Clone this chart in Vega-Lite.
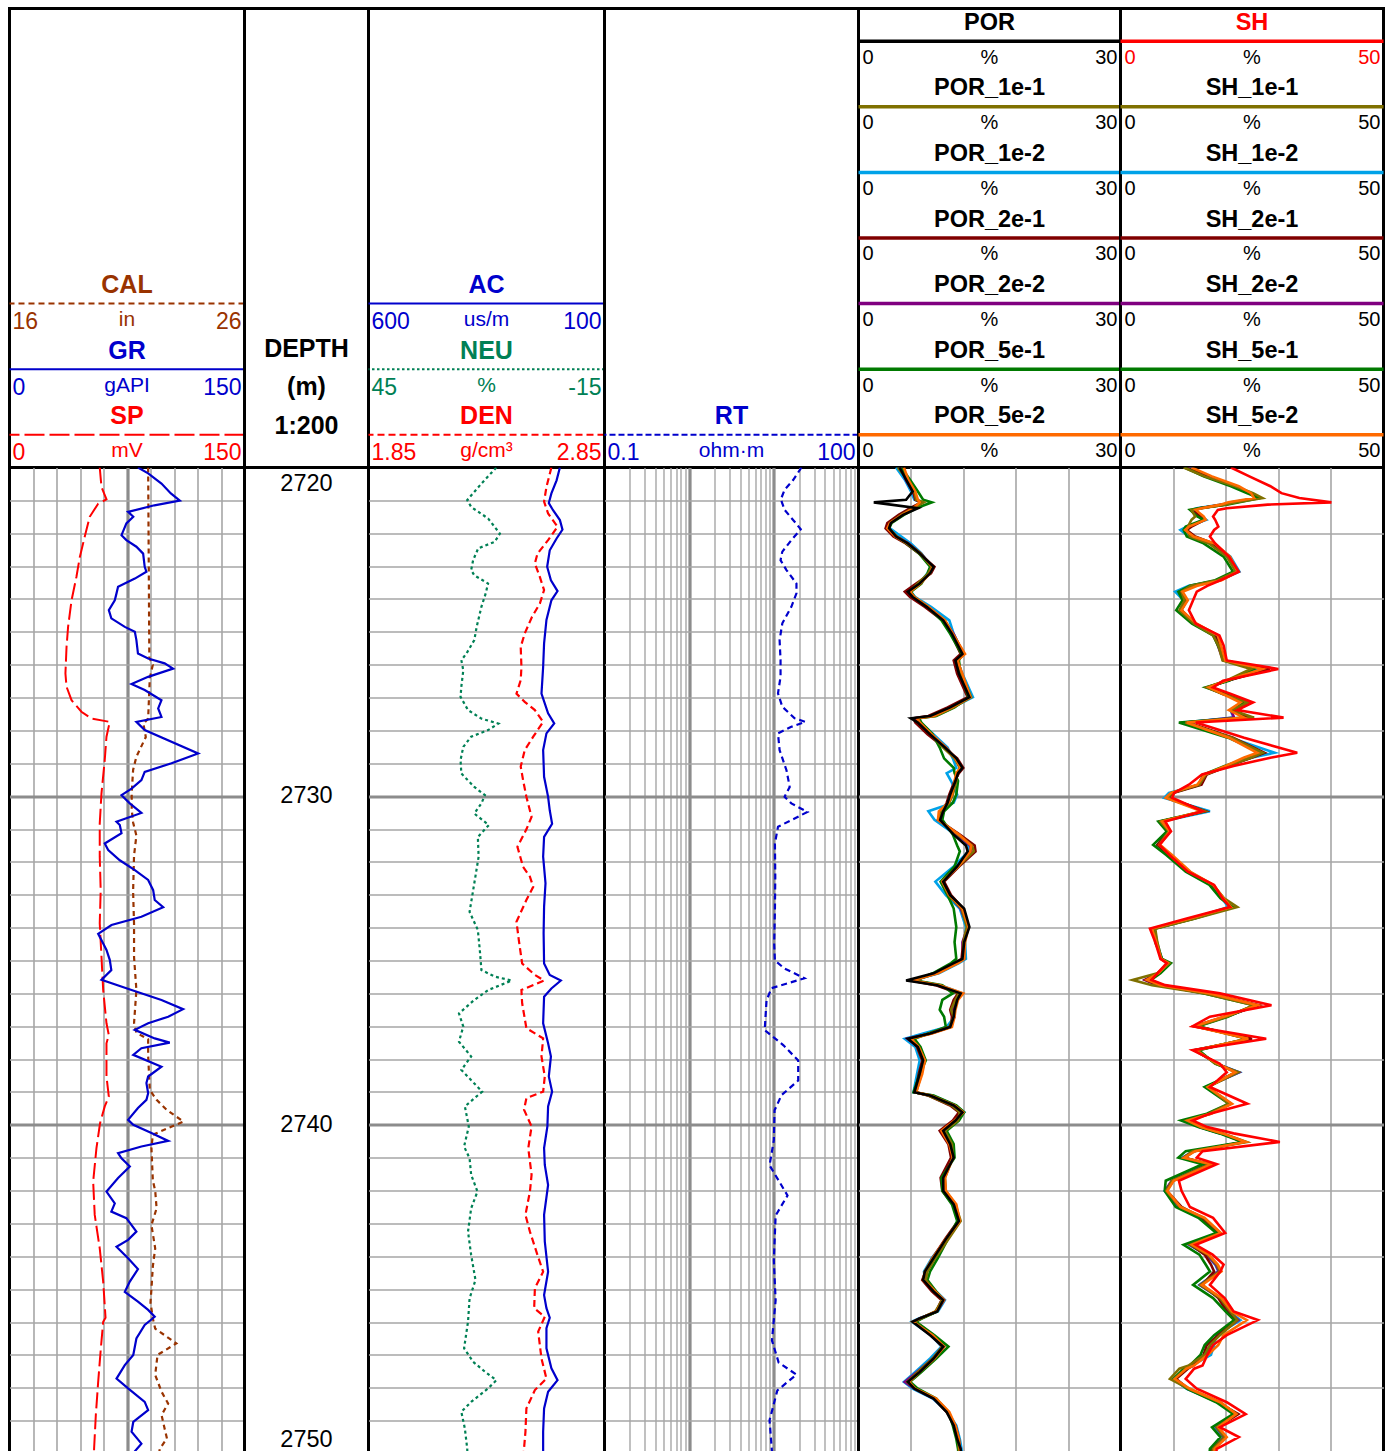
{
"$schema": "https://vega.github.io/schema/vega-lite/v6.json",
"background": "white",
"padding": {"left": 6.5, "top": 6.5, "right": 0, "bottom": 0},
"bounds": "flush",
"columns": 6,
"spacing": 0,
"config": {
 "view": {"stroke": "#000000", "strokeWidth": 3},
 "concat": {"spacing": 0},
 "axis": {"labels": false, "ticks": false, "domain": false, "title": null, "grid": true, "gridColor": "#a6a6a6", "gridWidth": 1.6, "minExtent": 0, "maxExtent": 0},
 "line": {"clip": true},
 "text": {"font": "Liberation Sans"}
},
"datasets": {
 "head": [
  {"track":"t1","row":9,"col":"center","kind":"title","text":"CAL","ink":"CAL"},
  {"track":"t1","row":10,"col":"left","kind":"value","text":"16","ink":"CAL"},
  {"track":"t1","row":10,"col":"center","kind":"unit","text":"in","ink":"CAL"},
  {"track":"t1","row":10,"col":"right","kind":"value","text":"26","ink":"CAL"},
  {"track":"t1","row":11,"col":"center","kind":"title","text":"GR","ink":"GR"},
  {"track":"t1","row":12,"col":"left","kind":"value","text":"0","ink":"GR"},
  {"track":"t1","row":12,"col":"center","kind":"unit","text":"gAPI","ink":"GR"},
  {"track":"t1","row":12,"col":"right","kind":"value","text":"150","ink":"GR"},
  {"track":"t1","row":13,"col":"center","kind":"title","text":"SP","ink":"SP"},
  {"track":"t1","row":14,"col":"left","kind":"value","text":"0","ink":"SP"},
  {"track":"t1","row":14,"col":"center","kind":"unit","text":"mV","ink":"SP"},
  {"track":"t1","row":14,"col":"right","kind":"value","text":"150","ink":"SP"},
  {"track":"t2","row":11,"col":"center","kind":"block","text":"DEPTH\n(m)\n1:200","ink":"none"},
  {"track":"t3","row":9,"col":"center","kind":"title","text":"AC","ink":"AC"},
  {"track":"t3","row":10,"col":"left","kind":"value","text":"600","ink":"AC"},
  {"track":"t3","row":10,"col":"center","kind":"unit","text":"us/m","ink":"AC"},
  {"track":"t3","row":10,"col":"right","kind":"value","text":"100","ink":"AC"},
  {"track":"t3","row":11,"col":"center","kind":"title","text":"NEU","ink":"NEU"},
  {"track":"t3","row":12,"col":"left","kind":"value","text":"45","ink":"NEU"},
  {"track":"t3","row":12,"col":"center","kind":"unit","text":"%","ink":"NEU"},
  {"track":"t3","row":12,"col":"right","kind":"value","text":"-15","ink":"NEU"},
  {"track":"t3","row":13,"col":"center","kind":"title","text":"DEN","ink":"DEN"},
  {"track":"t3","row":14,"col":"left","kind":"value","text":"1.85","ink":"DEN"},
  {"track":"t3","row":14,"col":"center","kind":"unit","text":"g/cm³","ink":"DEN"},
  {"track":"t3","row":14,"col":"right","kind":"value","text":"2.85","ink":"DEN"},
  {"track":"t4","row":13,"col":"center","kind":"title","text":"RT","ink":"RT"},
  {"track":"t4","row":14,"col":"left","kind":"value","text":"0.1","ink":"RT"},
  {"track":"t4","row":14,"col":"center","kind":"unit","text":"ohm·m","ink":"RT"},
  {"track":"t4","row":14,"col":"right","kind":"value","text":"100","ink":"RT"},
  {"track":"t5","row":1,"col":"center","kind":"title","text":"POR","ink":"POR"},
  {"track":"t5","row":2,"col":"left","kind":"value","text":"0","ink":"none"},
  {"track":"t5","row":2,"col":"center","kind":"unit","text":"%","ink":"none"},
  {"track":"t5","row":2,"col":"right","kind":"value","text":"30","ink":"none"},
  {"track":"t5","row":3,"col":"center","kind":"title","text":"POR_1e-1","ink":"none"},
  {"track":"t5","row":4,"col":"left","kind":"value","text":"0","ink":"none"},
  {"track":"t5","row":4,"col":"center","kind":"unit","text":"%","ink":"none"},
  {"track":"t5","row":4,"col":"right","kind":"value","text":"30","ink":"none"},
  {"track":"t5","row":5,"col":"center","kind":"title","text":"POR_1e-2","ink":"none"},
  {"track":"t5","row":6,"col":"left","kind":"value","text":"0","ink":"none"},
  {"track":"t5","row":6,"col":"center","kind":"unit","text":"%","ink":"none"},
  {"track":"t5","row":6,"col":"right","kind":"value","text":"30","ink":"none"},
  {"track":"t5","row":7,"col":"center","kind":"title","text":"POR_2e-1","ink":"none"},
  {"track":"t5","row":8,"col":"left","kind":"value","text":"0","ink":"none"},
  {"track":"t5","row":8,"col":"center","kind":"unit","text":"%","ink":"none"},
  {"track":"t5","row":8,"col":"right","kind":"value","text":"30","ink":"none"},
  {"track":"t5","row":9,"col":"center","kind":"title","text":"POR_2e-2","ink":"none"},
  {"track":"t5","row":10,"col":"left","kind":"value","text":"0","ink":"none"},
  {"track":"t5","row":10,"col":"center","kind":"unit","text":"%","ink":"none"},
  {"track":"t5","row":10,"col":"right","kind":"value","text":"30","ink":"none"},
  {"track":"t5","row":11,"col":"center","kind":"title","text":"POR_5e-1","ink":"none"},
  {"track":"t5","row":12,"col":"left","kind":"value","text":"0","ink":"none"},
  {"track":"t5","row":12,"col":"center","kind":"unit","text":"%","ink":"none"},
  {"track":"t5","row":12,"col":"right","kind":"value","text":"30","ink":"none"},
  {"track":"t5","row":13,"col":"center","kind":"title","text":"POR_5e-2","ink":"none"},
  {"track":"t5","row":14,"col":"left","kind":"value","text":"0","ink":"none"},
  {"track":"t5","row":14,"col":"center","kind":"unit","text":"%","ink":"none"},
  {"track":"t5","row":14,"col":"right","kind":"value","text":"30","ink":"none"},
  {"track":"t6","row":1,"col":"center","kind":"title","text":"SH","ink":"SH"},
  {"track":"t6","row":2,"col":"left","kind":"value","text":"0","ink":"SH"},
  {"track":"t6","row":2,"col":"center","kind":"unit","text":"%","ink":"none"},
  {"track":"t6","row":2,"col":"right","kind":"value","text":"50","ink":"SH"},
  {"track":"t6","row":3,"col":"center","kind":"title","text":"SH_1e-1","ink":"none"},
  {"track":"t6","row":4,"col":"left","kind":"value","text":"0","ink":"none"},
  {"track":"t6","row":4,"col":"center","kind":"unit","text":"%","ink":"none"},
  {"track":"t6","row":4,"col":"right","kind":"value","text":"50","ink":"none"},
  {"track":"t6","row":5,"col":"center","kind":"title","text":"SH_1e-2","ink":"none"},
  {"track":"t6","row":6,"col":"left","kind":"value","text":"0","ink":"none"},
  {"track":"t6","row":6,"col":"center","kind":"unit","text":"%","ink":"none"},
  {"track":"t6","row":6,"col":"right","kind":"value","text":"50","ink":"none"},
  {"track":"t6","row":7,"col":"center","kind":"title","text":"SH_2e-1","ink":"none"},
  {"track":"t6","row":8,"col":"left","kind":"value","text":"0","ink":"none"},
  {"track":"t6","row":8,"col":"center","kind":"unit","text":"%","ink":"none"},
  {"track":"t6","row":8,"col":"right","kind":"value","text":"50","ink":"none"},
  {"track":"t6","row":9,"col":"center","kind":"title","text":"SH_2e-2","ink":"none"},
  {"track":"t6","row":10,"col":"left","kind":"value","text":"0","ink":"none"},
  {"track":"t6","row":10,"col":"center","kind":"unit","text":"%","ink":"none"},
  {"track":"t6","row":10,"col":"right","kind":"value","text":"50","ink":"none"},
  {"track":"t6","row":11,"col":"center","kind":"title","text":"SH_5e-1","ink":"none"},
  {"track":"t6","row":12,"col":"left","kind":"value","text":"0","ink":"none"},
  {"track":"t6","row":12,"col":"center","kind":"unit","text":"%","ink":"none"},
  {"track":"t6","row":12,"col":"right","kind":"value","text":"50","ink":"none"},
  {"track":"t6","row":13,"col":"center","kind":"title","text":"SH_5e-2","ink":"none"},
  {"track":"t6","row":14,"col":"left","kind":"value","text":"0","ink":"none"},
  {"track":"t6","row":14,"col":"center","kind":"unit","text":"%","ink":"none"},
  {"track":"t6","row":14,"col":"right","kind":"value","text":"50","ink":"none"}
 ],
 "hrule": [
  {"track":"t1","row":9,"curve":"CAL"},{"track":"t1","row":11,"curve":"GR"},{"track":"t1","row":13,"curve":"SP"},
  {"track":"t3","row":9,"curve":"AC"},{"track":"t3","row":11,"curve":"NEU"},{"track":"t3","row":13,"curve":"DEN"},
  {"track":"t4","row":13,"curve":"RT"},
  {"track":"t5","row":1,"curve":"POR"},{"track":"t5","row":3,"curve":"1e-1"},{"track":"t5","row":5,"curve":"1e-2"},{"track":"t5","row":7,"curve":"2e-1"},{"track":"t5","row":9,"curve":"2e-2"},{"track":"t5","row":11,"curve":"5e-1"},{"track":"t5","row":13,"curve":"5e-2"},
  {"track":"t6","row":1,"curve":"SH"},{"track":"t6","row":3,"curve":"1e-1"},{"track":"t6","row":5,"curve":"1e-2"},{"track":"t6","row":7,"curve":"2e-1"},{"track":"t6","row":9,"curve":"2e-2"},{"track":"t6","row":11,"curve":"5e-1"},{"track":"t6","row":13,"curve":"5e-2"}
 ],
 "depthlab": [{"depth":2720},{"depth":2730},{"depth":2740},{"depth":2750}],
 "GR": [
  {"depth":2720,"value":82},{"depth":2720.18,"value":88.5},{"depth":2720.49,"value":97},{"depth":2720.79,"value":103},{"depth":2721.01,"value":108.7},{"depth":2721.15,"value":92.5},{"depth":2721.35,"value":75.7},{"depth":2721.5,"value":79},{"depth":2721.7,"value":74.6},{"depth":2722.06,"value":71.5},{"depth":2722.21,"value":74.6},{"depth":2722.41,"value":81},{"depth":2722.62,"value":85.3},{"depth":2723.02,"value":86.3},{"depth":2723.17,"value":87.4},{"depth":2723.38,"value":80},{"depth":2723.63,"value":69.3},{"depth":2723.83,"value":68.3},{"depth":2724.04,"value":67.2},{"depth":2724.34,"value":63.4},{"depth":2724.59,"value":65},{"depth":2724.85,"value":73.6},{"depth":2725.0,"value":80},{"depth":2725.25,"value":81},{"depth":2725.66,"value":82},{"depth":2725.81,"value":88.5},{"depth":2725.96,"value":99},{"depth":2726.12,"value":104.4},{"depth":2726.37,"value":88.5},{"depth":2726.59,"value":77.9},{"depth":2726.77,"value":86.3},{"depth":2727.08,"value":97},{"depth":2727.33,"value":94.9},{"depth":2727.59,"value":97},{"depth":2727.74,"value":81},{"depth":2727.99,"value":86.3},{"depth":2728.7,"value":120.4},{"depth":2729.0,"value":103.4},{"depth":2729.26,"value":86.3},{"depth":2729.51,"value":84.2},{"depth":2729.77,"value":77.9},{"depth":2729.97,"value":71.5},{"depth":2730.22,"value":76.8},{"depth":2730.51,"value":84.2},{"depth":2730.78,"value":68.3},{"depth":2730.88,"value":70.4},{"depth":2731.13,"value":71.5},{"depth":2731.44,"value":60.8},{"depth":2731.64,"value":63},{"depth":2731.95,"value":70.4},{"depth":2732.25,"value":80},{"depth":2732.55,"value":88.5},{"depth":2732.86,"value":91.7},{"depth":2733.16,"value":92.7},{"depth":2733.38,"value":98.1},{"depth":2733.67,"value":84.2},{"depth":2733.92,"value":65.1},{"depth":2734.19,"value":56.6},{"depth":2734.48,"value":59.8},{"depth":2734.68,"value":61.9},{"depth":2734.98,"value":64},{"depth":2735.29,"value":65},{"depth":2735.59,"value":58.7},{"depth":2735.9,"value":77.9},{"depth":2736.2,"value":97},{"depth":2736.48,"value":110.8},{"depth":2736.71,"value":101.3},{"depth":2736.91,"value":88.5},{"depth":2737.11,"value":80},{"depth":2737.37,"value":92.7},{"depth":2737.5,"value":102.3},{"depth":2737.67,"value":84.2},{"depth":2737.87,"value":79},{"depth":2738.23,"value":97},{"depth":2738.53,"value":88.5},{"depth":2738.73,"value":87.4},{"depth":2739.04,"value":88.5},{"depth":2739.24,"value":87.4},{"depth":2739.49,"value":82},{"depth":2739.85,"value":75.7},{"depth":2740.0,"value":79},{"depth":2740.25,"value":90.6},{"depth":2740.49,"value":101.3},{"depth":2740.66,"value":84.2},{"depth":2740.86,"value":69.3},{"depth":2741.02,"value":71.5},{"depth":2741.27,"value":76.8},{"depth":2741.62,"value":69.3},{"depth":2742.03,"value":61.9},{"depth":2742.39,"value":67.2},{"depth":2742.64,"value":65},{"depth":2742.84,"value":74.6},{"depth":2743.25,"value":81},{"depth":2743.5,"value":75.7},{"depth":2743.71,"value":68.3},{"depth":2744.06,"value":75.7},{"depth":2744.39,"value":82},{"depth":2744.77,"value":76.8},{"depth":2745.08,"value":73.6},{"depth":2745.38,"value":82},{"depth":2745.63,"value":88.5},{"depth":2745.84,"value":92.7},{"depth":2746.09,"value":86.3},{"depth":2746.5,"value":81},{"depth":2747.0,"value":79},{"depth":2747.31,"value":73.6},{"depth":2747.72,"value":68.3},{"depth":2748.02,"value":75.7},{"depth":2748.43,"value":86.3},{"depth":2748.68,"value":88.5},{"depth":2749.04,"value":79},{"depth":2749.34,"value":77.9},{"depth":2749.7,"value":84.2},{"depth":2749.93,"value":80},{"depth":2750.2,"value":78}
 ],
 "CAL": [
  {"depth":2720,"value":21.9},{"depth":2725.8,"value":21.95},{"depth":2726.0,"value":22.1},{"depth":2726.4,"value":21.97},{"depth":2727.64,"value":21.9},{"depth":2727.8,"value":21.7},{"depth":2728.2,"value":21.8},{"depth":2728.5,"value":21.6},{"depth":2728.8,"value":21.4},{"depth":2729.2,"value":21.26},{"depth":2729.9,"value":21.2},{"depth":2730.4,"value":21.2},{"depth":2730.8,"value":21.26},{"depth":2731.2,"value":21.4},{"depth":2731.8,"value":21.3},{"depth":2732.9,"value":21.26},{"depth":2733.9,"value":21.3},{"depth":2734.9,"value":21.3},{"depth":2735.9,"value":21.4},{"depth":2736.9,"value":21.3},{"depth":2737.2,"value":21.4},{"depth":2737.4,"value":21.9},{"depth":2737.9,"value":21.9},{"depth":2738.94,"value":21.97},{"depth":2739.24,"value":22.26},{"depth":2739.55,"value":22.7},{"depth":2739.9,"value":23.4},{"depth":2740.1,"value":22.75},{"depth":2740.3,"value":22.1},{"depth":2740.7,"value":22.04},{"depth":2741.7,"value":22.1},{"depth":2742.0,"value":22.2},{"depth":2742.54,"value":22.26},{"depth":2743.05,"value":22.04},{"depth":2743.76,"value":22.2},{"depth":2744.3,"value":22.1},{"depth":2745.0,"value":22.04},{"depth":2745.4,"value":22.0},{"depth":2745.89,"value":22.1},{"depth":2746.2,"value":22.2},{"depth":2746.4,"value":22.6},{"depth":2746.65,"value":23.1},{"depth":2747.0,"value":22.3},{"depth":2747.61,"value":22.2},{"depth":2748.12,"value":22.47},{"depth":2748.48,"value":22.75},{"depth":2748.83,"value":22.47},{"depth":2749.24,"value":22.6},{"depth":2749.54,"value":22.7},{"depth":2749.85,"value":22.4},{"depth":2750.2,"value":22.3}
 ],
 "SP": [
  {"depth":2720,"value":57.6},{"depth":2720.59,"value":58.7},{"depth":2720.97,"value":61.9},{"depth":2721.1,"value":56.6},{"depth":2721.5,"value":51.2},{"depth":2722.11,"value":48},{"depth":2722.72,"value":44.9},{"depth":2723.33,"value":42.7},{"depth":2724.04,"value":39.6},{"depth":2724.85,"value":37.4},{"depth":2725.46,"value":36.4},{"depth":2726.27,"value":35.7},{"depth":2726.67,"value":36.4},{"depth":2727.08,"value":39.6},{"depth":2727.43,"value":45.9},{"depth":2727.64,"value":52.3},{"depth":2727.74,"value":64},{"depth":2728.19,"value":61.9},{"depth":2728.9,"value":60.8},{"depth":2729.92,"value":58.7},{"depth":2730.83,"value":57.6},{"depth":2731.84,"value":57.6},{"depth":2732.86,"value":58.2},{"depth":2733.87,"value":57.6},{"depth":2734.88,"value":58.7},{"depth":2735.9,"value":59.8},{"depth":2736.91,"value":61.9},{"depth":2737.27,"value":63.4},{"depth":2737.52,"value":61.9},{"depth":2738.53,"value":61.9},{"depth":2739.14,"value":63.4},{"depth":2739.44,"value":60.8},{"depth":2739.95,"value":57.8},{"depth":2740.71,"value":55.5},{"depth":2741.73,"value":53.4},{"depth":2742.74,"value":54.4},{"depth":2743.76,"value":57.6},{"depth":2744.77,"value":59.8},{"depth":2745.87,"value":61.3},{"depth":2745.99,"value":59.8},{"depth":2746.8,"value":58.3},{"depth":2747.82,"value":56.6},{"depth":2748.83,"value":55.1},{"depth":2749.85,"value":54},{"depth":2750.2,"value":53.8}
 ],
 "AC": [
  {"depth":2720,"value":194.5},{"depth":2720.39,"value":201.5},{"depth":2720.79,"value":212.5},{"depth":2721.08,"value":218},{"depth":2721.3,"value":209},{"depth":2721.6,"value":194.5},{"depth":2721.89,"value":189},{"depth":2722.16,"value":201.5},{"depth":2722.52,"value":216},{"depth":2723.02,"value":221.5},{"depth":2723.43,"value":213.5},{"depth":2723.76,"value":199.5},{"depth":2724.04,"value":212.5},{"depth":2724.64,"value":223},{"depth":2725.35,"value":228},{"depth":2726.07,"value":230},{"depth":2726.88,"value":233.5},{"depth":2727.48,"value":219.5},{"depth":2727.79,"value":206.5},{"depth":2728.09,"value":223},{"depth":2728.6,"value":230},{"depth":2729.41,"value":228},{"depth":2730.02,"value":219.5},{"depth":2730.43,"value":216},{"depth":2730.84,"value":211},{"depth":2731.24,"value":228},{"depth":2731.84,"value":230},{"depth":2732.65,"value":225},{"depth":2733.36,"value":228},{"depth":2734.17,"value":229},{"depth":2735.09,"value":228},{"depth":2735.44,"value":216},{"depth":2735.61,"value":192.5},{"depth":2735.85,"value":212.5},{"depth":2736.1,"value":228},{"depth":2736.91,"value":230},{"depth":2737.52,"value":219.5},{"depth":2737.92,"value":213.5},{"depth":2738.53,"value":218},{"depth":2738.99,"value":211},{"depth":2739.44,"value":219.5},{"depth":2740.05,"value":221},{"depth":2740.71,"value":228},{"depth":2741.22,"value":226.5},{"depth":2741.83,"value":219.5},{"depth":2742.74,"value":228},{"depth":2743.55,"value":226.5},{"depth":2744.47,"value":219.5},{"depth":2745.18,"value":228},{"depth":2745.58,"value":223},{"depth":2745.87,"value":216},{"depth":2746.19,"value":223},{"depth":2746.8,"value":223},{"depth":2747.41,"value":212.5},{"depth":2747.77,"value":199.5},{"depth":2748.12,"value":219.5},{"depth":2748.63,"value":228},{"depth":2749.34,"value":230},{"depth":2749.85,"value":230},{"depth":2750.2,"value":230}
 ],
 "NEU": [
  {"depth":2720,"value":12.5},{"depth":2720.49,"value":16.3},{"depth":2720.99,"value":19.9},{"depth":2721.2,"value":18.9},{"depth":2721.55,"value":14.6},{"depth":2722.01,"value":11.6},{"depth":2722.26,"value":12.9},{"depth":2722.46,"value":17.1},{"depth":2722.82,"value":18.4},{"depth":2723.12,"value":18.9},{"depth":2723.28,"value":18.1},{"depth":2723.53,"value":14.6},{"depth":2723.83,"value":15.2},{"depth":2724.24,"value":16.3},{"depth":2724.85,"value":17.5},{"depth":2725.25,"value":18.1},{"depth":2725.66,"value":20.1},{"depth":2725.86,"value":21.4},{"depth":2726.17,"value":20.9},{"depth":2726.67,"value":21.4},{"depth":2726.98,"value":21.6},{"depth":2727.38,"value":19.7},{"depth":2727.64,"value":16.3},{"depth":2727.79,"value":12},{"depth":2727.99,"value":14.6},{"depth":2728.19,"value":18.9},{"depth":2728.5,"value":20.9},{"depth":2728.9,"value":21.6},{"depth":2729.31,"value":21.4},{"depth":2729.72,"value":18.1},{"depth":2729.97,"value":15.4},{"depth":2730.22,"value":16.3},{"depth":2730.53,"value":18.1},{"depth":2730.88,"value":14.4},{"depth":2731.24,"value":17.2},{"depth":2731.84,"value":17},{"depth":2732.65,"value":18.1},{"depth":2733.52,"value":19.3},{"depth":2734.07,"value":17.2},{"depth":2734.68,"value":16.7},{"depth":2735.29,"value":16.3},{"depth":2735.49,"value":12.9},{"depth":2735.61,"value":8.6},{"depth":2735.9,"value":14.6},{"depth":2736.2,"value":18.1},{"depth":2736.61,"value":22},{"depth":2737.01,"value":20.9},{"depth":2737.47,"value":22},{"depth":2737.92,"value":18.9},{"depth":2738.33,"value":21.4},{"depth":2738.99,"value":16.1},{"depth":2739.44,"value":20.5},{"depth":2740.05,"value":19.5},{"depth":2740.66,"value":20.7},{"depth":2741.02,"value":19.3},{"depth":2741.52,"value":18.9},{"depth":2742.03,"value":17.3},{"depth":2742.54,"value":18.9},{"depth":2743.25,"value":19.7},{"depth":2743.96,"value":18.9},{"depth":2744.72,"value":17.8},{"depth":2745.28,"value":19.3},{"depth":2745.99,"value":19.7},{"depth":2746.8,"value":20.7},{"depth":2747.21,"value":18.4},{"depth":2747.51,"value":15.4},{"depth":2747.77,"value":12.5},{"depth":2748.02,"value":14.6},{"depth":2748.43,"value":18.9},{"depth":2748.73,"value":21.4},{"depth":2749.24,"value":20.5},{"depth":2749.85,"value":19.9},{"depth":2750.2,"value":19.8}
 ],
 "DEN": [
  {"depth":2720,"value":2.625},{"depth":2720.59,"value":2.604},{"depth":2721.04,"value":2.594},{"depth":2721.4,"value":2.611},{"depth":2721.8,"value":2.651},{"depth":2722.21,"value":2.611},{"depth":2722.62,"value":2.566},{"depth":2722.92,"value":2.555},{"depth":2723.33,"value":2.576},{"depth":2723.73,"value":2.594},{"depth":2724.14,"value":2.576},{"depth":2724.54,"value":2.543},{"depth":2725.05,"value":2.512},{"depth":2725.46,"value":2.495},{"depth":2726.07,"value":2.498},{"depth":2726.47,"value":2.495},{"depth":2726.88,"value":2.477},{"depth":2727.13,"value":2.512},{"depth":2727.38,"value":2.555},{"depth":2727.74,"value":2.59},{"depth":2728.19,"value":2.548},{"depth":2728.6,"value":2.512},{"depth":2729.1,"value":2.495},{"depth":2729.51,"value":2.505},{"depth":2730.02,"value":2.519},{"depth":2730.63,"value":2.541},{"depth":2731.01,"value":2.519},{"depth":2731.54,"value":2.481},{"depth":2732.15,"value":2.505},{"depth":2732.45,"value":2.534},{"depth":2732.76,"value":2.548},{"depth":2733.16,"value":2.519},{"depth":2733.82,"value":2.477},{"depth":2734.38,"value":2.487},{"depth":2735.09,"value":2.501},{"depth":2735.44,"value":2.555},{"depth":2735.61,"value":2.594},{"depth":2735.9,"value":2.498},{"depth":2736.3,"value":2.501},{"depth":2737.06,"value":2.519},{"depth":2737.37,"value":2.59},{"depth":2737.92,"value":2.583},{"depth":2738.53,"value":2.597},{"depth":2738.99,"value":2.59},{"depth":2739.19,"value":2.519},{"depth":2739.54,"value":2.509},{"depth":2740.05,"value":2.541},{"depth":2740.71,"value":2.527},{"depth":2741.52,"value":2.541},{"depth":2742.03,"value":2.534},{"depth":2742.74,"value":2.515},{"depth":2743.25,"value":2.534},{"depth":2743.96,"value":2.566},{"depth":2744.47,"value":2.59},{"depth":2744.97,"value":2.555},{"depth":2745.58,"value":2.552},{"depth":2745.84,"value":2.597},{"depth":2746.29,"value":2.569},{"depth":2747.11,"value":2.583},{"depth":2747.72,"value":2.604},{"depth":2748.07,"value":2.555},{"depth":2748.63,"value":2.519},{"depth":2749.34,"value":2.515},{"depth":2749.85,"value":2.509},{"depth":2750.2,"value":2.505}
 ],
 "RT": [
  {"depth":2720,"value":21.2},{"depth":2720.38,"value":16.9},{"depth":2720.68,"value":13.4},{"depth":2720.97,"value":12.1},{"depth":2721.29,"value":13.4},{"depth":2721.65,"value":17.6},{"depth":2721.88,"value":20.8},{"depth":2722.21,"value":16.1},{"depth":2722.56,"value":12.6},{"depth":2722.82,"value":12},{"depth":2723.12,"value":14.1},{"depth":2723.53,"value":18.5},{"depth":2723.83,"value":18.5},{"depth":2724.24,"value":16.1},{"depth":2724.74,"value":12.6},{"depth":2725.25,"value":11.7},{"depth":2725.86,"value":12},{"depth":2726.37,"value":12},{"depth":2726.87,"value":11.2},{"depth":2727.28,"value":12.6},{"depth":2727.63,"value":17.6},{"depth":2727.74,"value":23.6},{"depth":2727.89,"value":16.1},{"depth":2728.09,"value":11.2},{"depth":2728.6,"value":11.7},{"depth":2729.21,"value":14.1},{"depth":2729.72,"value":15.4},{"depth":2730.02,"value":13.4},{"depth":2730.22,"value":16.1},{"depth":2730.48,"value":24.9},{"depth":2730.68,"value":17.6},{"depth":2730.93,"value":11.2},{"depth":2731.44,"value":10.3},{"depth":2732.46,"value":10.4},{"depth":2733.47,"value":10.3},{"depth":2734.49,"value":10.1},{"depth":2735.0,"value":10.3},{"depth":2735.24,"value":13.3},{"depth":2735.54,"value":23},{"depth":2735.84,"value":9.4},{"depth":2736.21,"value":8.2},{"depth":2737.12,"value":7.8},{"depth":2737.58,"value":13},{"depth":2738.04,"value":19.4},{"depth":2738.65,"value":19.4},{"depth":2739.1,"value":12.3},{"depth":2739.56,"value":10.2},{"depth":2740.47,"value":10},{"depth":2741.23,"value":8.9},{"depth":2742.15,"value":14.5},{"depth":2742.76,"value":10.5},{"depth":2744.13,"value":10},{"depth":2745.34,"value":10.5},{"depth":2746.56,"value":9.5},{"depth":2747.23,"value":11.4},{"depth":2747.6,"value":18.5},{"depth":2748.08,"value":11},{"depth":2748.99,"value":8.9},{"depth":2749.93,"value":9.5},{"depth":2750.2,"value":9.6}
 ],
 "por": [
  {"depth":2720,"POR":4.7,"POR_1e-1":4.5,"POR_1e-2":4.3,"POR_2e-1":5.0,"POR_2e-2":4.8,"POR_5e-1":4.9,"POR_5e-2":5.2},
  {"depth":2720.37,"POR":5.45,"POR_1e-1":5.6,"POR_1e-2":5.3,"POR_2e-1":5.5,"POR_2e-2":5.4,"POR_5e-1":5.9,"POR_5e-2":5.7},
  {"depth":2720.73,"POR":6.2,"POR_1e-1":6.4,"POR_1e-2":6.0,"POR_2e-1":6.3,"POR_2e-2":6.2,"POR_5e-1":6.8,"POR_5e-2":6.5},
  {"depth":2720.98,"POR":5.45,"POR_1e-1":6.6,"POR_1e-2":6.4,"POR_2e-1":6.5,"POR_2e-2":6.6,"POR_5e-1":7.4,"POR_5e-2":6.8},
  {"depth":2721.06,"POR":1.75,"POR_1e-1":7.5,"POR_1e-2":7.2,"POR_2e-1":7.2,"POR_2e-2":7.3,"POR_5e-1":8.4,"POR_5e-2":7.0},
  {"depth":2721.24,"POR":6.8,"POR_1e-1":6.2,"POR_1e-2":6.0,"POR_2e-1":5.9,"POR_2e-2":6.1,"POR_5e-1":6.6,"POR_5e-2":6.3},
  {"depth":2721.44,"POR":5.1,"POR_1e-1":4.9,"POR_1e-2":4.8,"POR_2e-1":4.6,"POR_2e-2":4.9,"POR_5e-1":5.2,"POR_5e-2":5.0},
  {"depth":2721.69,"POR":3.7,"POR_1e-1":3.6,"POR_1e-2":3.5,"POR_2e-1":3.3,"POR_2e-2":3.6,"POR_5e-1":3.8,"POR_5e-2":3.6},
  {"depth":2721.85,"POR":3.5,"POR_1e-1":3.4,"POR_1e-2":3.6,"POR_2e-1":3.1,"POR_2e-2":3.4,"POR_5e-1":3.5,"POR_5e-2":3.3},
  {"depth":2722.1,"POR":4.3,"POR_1e-1":4.4,"POR_1e-2":4.9,"POR_2e-1":4.0,"POR_2e-2":4.4,"POR_5e-1":4.3,"POR_5e-2":4.2},
  {"depth":2722.31,"POR":5.65,"POR_1e-1":5.6,"POR_1e-2":6.0,"POR_2e-1":5.4,"POR_2e-2":5.7,"POR_5e-1":5.5,"POR_5e-2":5.6},
  {"depth":2722.61,"POR":7.0,"POR_1e-1":7.1,"POR_1e-2":7.2,"POR_2e-1":6.9,"POR_2e-2":7.1,"POR_5e-1":6.9,"POR_5e-2":7.0},
  {"depth":2723.02,"POR":8.6,"POR_1e-1":8.4,"POR_1e-2":8.3,"POR_2e-1":8.7,"POR_2e-2":8.5,"POR_5e-1":8.2,"POR_5e-2":8.5},
  {"depth":2723.22,"POR":8.2,"POR_1e-1":8.0,"POR_1e-2":7.9,"POR_2e-1":8.3,"POR_2e-2":8.1,"POR_5e-1":7.9,"POR_5e-2":8.2},
  {"depth":2723.53,"POR":7.0,"POR_1e-1":6.8,"POR_1e-2":6.9,"POR_2e-1":6.6,"POR_2e-2":6.9,"POR_5e-1":7.2,"POR_5e-2":7.1},
  {"depth":2723.78,"POR":5.65,"POR_1e-1":5.8,"POR_1e-2":6.0,"POR_2e-1":5.3,"POR_2e-2":5.6,"POR_5e-1":6.0,"POR_5e-2":5.9},
  {"depth":2723.94,"POR":6.2,"POR_1e-1":6.3,"POR_1e-2":6.5,"POR_2e-1":5.9,"POR_2e-2":6.2,"POR_5e-1":6.4,"POR_5e-2":6.4},
  {"depth":2724.24,"POR":7.8,"POR_1e-1":7.9,"POR_1e-2":8.3,"POR_2e-1":7.6,"POR_2e-2":7.8,"POR_5e-1":7.9,"POR_5e-2":8.0},
  {"depth":2724.65,"POR":9.7,"POR_1e-1":9.9,"POR_1e-2":10.4,"POR_2e-1":9.6,"POR_2e-2":9.8,"POR_5e-1":9.5,"POR_5e-2":9.9},
  {"depth":2725.06,"POR":10.7,"POR_1e-1":10.8,"POR_1e-2":10.9,"POR_2e-1":10.6,"POR_2e-2":10.9,"POR_5e-1":10.5,"POR_5e-2":10.8},
  {"depth":2725.67,"POR":11.9,"POR_1e-1":12.1,"POR_1e-2":12.0,"POR_2e-1":11.7,"POR_2e-2":12.0,"POR_5e-1":11.8,"POR_5e-2":12.2},
  {"depth":2725.87,"POR":11.1,"POR_1e-1":11.4,"POR_1e-2":11.3,"POR_2e-1":10.9,"POR_2e-2":11.2,"POR_5e-1":11.5,"POR_5e-2":11.3},
  {"depth":2726.28,"POR":11.5,"POR_1e-1":11.8,"POR_1e-2":11.9,"POR_2e-1":11.3,"POR_2e-2":11.6,"POR_5e-1":11.7,"POR_5e-2":11.9},
  {"depth":2726.99,"POR":12.7,"POR_1e-1":12.9,"POR_1e-2":13.1,"POR_2e-1":12.5,"POR_2e-2":12.8,"POR_5e-1":12.6,"POR_5e-2":12.8},
  {"depth":2727.3,"POR":10.5,"POR_1e-1":10.9,"POR_1e-2":10.8,"POR_2e-1":10.2,"POR_2e-2":10.6,"POR_5e-1":11.0,"POR_5e-2":10.7},
  {"depth":2727.56,"POR":8.2,"POR_1e-1":8.8,"POR_1e-2":8.5,"POR_2e-1":8.0,"POR_2e-2":8.4,"POR_5e-1":8.9,"POR_5e-2":8.6},
  {"depth":2727.63,"POR":6.0,"POR_1e-1":6.8,"POR_1e-2":6.6,"POR_2e-1":6.3,"POR_2e-2":6.5,"POR_5e-1":6.9,"POR_5e-2":6.7},
  {"depth":2727.76,"POR":6.8,"POR_1e-1":7.0,"POR_1e-2":7.1,"POR_2e-1":6.5,"POR_2e-2":6.9,"POR_5e-1":7.2,"POR_5e-2":7.0},
  {"depth":2728.12,"POR":8.2,"POR_1e-1":8.3,"POR_1e-2":8.6,"POR_2e-1":7.9,"POR_2e-2":8.2,"POR_5e-1":8.5,"POR_5e-2":8.4},
  {"depth":2728.52,"POR":9.9,"POR_1e-1":9.7,"POR_1e-2":10.2,"POR_2e-1":9.8,"POR_2e-2":10.0,"POR_5e-1":9.3,"POR_5e-2":10.0},
  {"depth":2728.85,"POR":11.2,"POR_1e-1":11.0,"POR_1e-2":10.8,"POR_2e-1":11.3,"POR_2e-2":11.1,"POR_5e-1":9.8,"POR_5e-2":11.1},
  {"depth":2729.14,"POR":11.9,"POR_1e-1":11.6,"POR_1e-2":11.2,"POR_2e-1":12.0,"POR_2e-2":11.8,"POR_5e-1":10.9,"POR_5e-2":11.7},
  {"depth":2729.3,"POR":11.4,"POR_1e-1":11.3,"POR_1e-2":10.1,"POR_2e-1":11.5,"POR_2e-2":11.4,"POR_5e-1":11.0,"POR_5e-2":11.2},
  {"depth":2729.54,"POR":11.1,"POR_1e-1":11.2,"POR_1e-2":10.6,"POR_2e-1":11.0,"POR_2e-2":11.1,"POR_5e-1":11.4,"POR_5e-2":11.0},
  {"depth":2729.95,"POR":10.5,"POR_1e-1":10.8,"POR_1e-2":11.3,"POR_2e-1":10.4,"POR_2e-2":10.6,"POR_5e-1":11.2,"POR_5e-2":10.7},
  {"depth":2730.2,"POR":10.2,"POR_1e-1":10.4,"POR_1e-2":10.9,"POR_2e-1":10.1,"POR_2e-2":10.3,"POR_5e-1":10.8,"POR_5e-2":10.3},
  {"depth":2730.46,"POR":9.7,"POR_1e-1":9.4,"POR_1e-2":8.0,"POR_2e-1":9.6,"POR_2e-2":9.5,"POR_5e-1":9.8,"POR_5e-2":9.2},
  {"depth":2730.72,"POR":9.35,"POR_1e-1":9.2,"POR_1e-2":8.7,"POR_2e-1":9.1,"POR_2e-2":9.2,"POR_5e-1":9.6,"POR_5e-2":9.1},
  {"depth":2731.17,"POR":10.9,"POR_1e-1":11.4,"POR_1e-2":11.1,"POR_2e-1":11.6,"POR_2e-2":11.3,"POR_5e-1":10.8,"POR_5e-2":11.5},
  {"depth":2731.5,"POR":12.3,"POR_1e-1":13.0,"POR_1e-2":12.6,"POR_2e-1":13.3,"POR_2e-2":12.8,"POR_5e-1":11.3,"POR_5e-2":12.9},
  {"depth":2731.68,"POR":12.5,"POR_1e-1":13.2,"POR_1e-2":12.6,"POR_2e-1":13.4,"POR_2e-2":12.9,"POR_5e-1":11.6,"POR_5e-2":12.8},
  {"depth":2732.14,"POR":11.3,"POR_1e-1":11.4,"POR_1e-2":10.9,"POR_2e-1":11.5,"POR_2e-2":11.3,"POR_5e-1":11.0,"POR_5e-2":11.4},
  {"depth":2732.6,"POR":9.7,"POR_1e-1":9.6,"POR_1e-2":8.8,"POR_2e-1":9.8,"POR_2e-2":9.5,"POR_5e-1":9.4,"POR_5e-2":9.6},
  {"depth":2733.01,"POR":10.5,"POR_1e-1":10.3,"POR_1e-2":10.0,"POR_2e-1":10.6,"POR_2e-2":10.4,"POR_5e-1":10.2,"POR_5e-2":10.4},
  {"depth":2733.42,"POR":12.1,"POR_1e-1":11.8,"POR_1e-2":11.6,"POR_2e-1":12.0,"POR_2e-2":11.7,"POR_5e-1":10.9,"POR_5e-2":11.9},
  {"depth":2733.98,"POR":12.7,"POR_1e-1":12.4,"POR_1e-2":12.3,"POR_2e-1":12.6,"POR_2e-2":12.5,"POR_5e-1":11.2,"POR_5e-2":12.6},
  {"depth":2734.44,"POR":12.1,"POR_1e-1":12.0,"POR_1e-2":12.2,"POR_2e-1":12.0,"POR_2e-2":11.9,"POR_5e-1":11.0,"POR_5e-2":12.2},
  {"depth":2734.95,"POR":11.9,"POR_1e-1":12.1,"POR_1e-2":12.3,"POR_2e-1":11.8,"POR_2e-2":12.0,"POR_5e-1":11.2,"POR_5e-2":12.1},
  {"depth":2735.08,"POR":10.9,"POR_1e-1":11.3,"POR_1e-2":11.5,"POR_2e-1":11.0,"POR_2e-2":11.2,"POR_5e-1":10.6,"POR_5e-2":11.4},
  {"depth":2735.39,"POR":8.6,"POR_1e-1":9.0,"POR_1e-2":9.2,"POR_2e-1":8.8,"POR_2e-2":8.9,"POR_5e-1":8.5,"POR_5e-2":9.1},
  {"depth":2735.61,"POR":5.45,"POR_1e-1":6.3,"POR_1e-2":6.1,"POR_2e-1":6.0,"POR_2e-2":6.3,"POR_5e-1":6.5,"POR_5e-2":6.0},
  {"depth":2735.75,"POR":9.0,"POR_1e-1":9.2,"POR_1e-2":9.4,"POR_2e-1":8.8,"POR_2e-2":9.1,"POR_5e-1":9.6,"POR_5e-2":9.3},
  {"depth":2736.0,"POR":11.7,"POR_1e-1":11.5,"POR_1e-2":11.9,"POR_2e-1":11.4,"POR_2e-2":11.6,"POR_5e-1":10.8,"POR_5e-2":12.0},
  {"depth":2736.2,"POR":11.3,"POR_1e-1":11.1,"POR_1e-2":11.0,"POR_2e-1":10.9,"POR_2e-2":11.2,"POR_5e-1":9.6,"POR_5e-2":11.4},
  {"depth":2736.5,"POR":11.0,"POR_1e-1":10.6,"POR_1e-2":10.8,"POR_2e-1":10.5,"POR_2e-2":10.8,"POR_5e-1":9.3,"POR_5e-2":11.1},
  {"depth":2736.71,"POR":10.9,"POR_1e-1":10.9,"POR_1e-2":11.0,"POR_2e-1":10.7,"POR_2e-2":11.0,"POR_5e-1":9.8,"POR_5e-2":11.0},
  {"depth":2737.02,"POR":10.5,"POR_1e-1":10.4,"POR_1e-2":10.1,"POR_2e-1":10.6,"POR_2e-2":10.5,"POR_5e-1":10.0,"POR_5e-2":10.7},
  {"depth":2737.22,"POR":8.2,"POR_1e-1":8.1,"POR_1e-2":7.4,"POR_2e-1":8.3,"POR_2e-2":8.2,"POR_5e-1":8.0,"POR_5e-2":8.4},
  {"depth":2737.38,"POR":5.65,"POR_1e-1":6.0,"POR_1e-2":5.3,"POR_2e-1":5.9,"POR_2e-2":5.6,"POR_5e-1":6.4,"POR_5e-2":6.0},
  {"depth":2737.63,"POR":6.8,"POR_1e-1":6.9,"POR_1e-2":6.5,"POR_2e-1":6.7,"POR_2e-2":6.8,"POR_5e-1":7.1,"POR_5e-2":6.9},
  {"depth":2738.04,"POR":7.4,"POR_1e-1":7.6,"POR_1e-2":7.0,"POR_2e-1":7.3,"POR_2e-2":7.5,"POR_5e-1":7.7,"POR_5e-2":7.6},
  {"depth":2738.45,"POR":7.0,"POR_1e-1":7.2,"POR_1e-2":6.7,"POR_2e-1":6.9,"POR_2e-2":7.1,"POR_5e-1":7.0,"POR_5e-2":7.3},
  {"depth":2739.01,"POR":6.4,"POR_1e-1":6.6,"POR_1e-2":6.3,"POR_2e-1":6.5,"POR_2e-2":6.5,"POR_5e-1":6.3,"POR_5e-2":6.6},
  {"depth":2739.11,"POR":8.2,"POR_1e-1":8.0,"POR_1e-2":8.5,"POR_2e-1":8.0,"POR_2e-2":8.1,"POR_5e-1":8.6,"POR_5e-2":8.3},
  {"depth":2739.41,"POR":10.9,"POR_1e-1":10.7,"POR_1e-2":11.1,"POR_2e-1":10.5,"POR_2e-2":10.8,"POR_5e-1":11.2,"POR_5e-2":11.0},
  {"depth":2739.62,"POR":11.9,"POR_1e-1":11.6,"POR_1e-2":12.1,"POR_2e-1":11.5,"POR_2e-2":11.8,"POR_5e-1":12.1,"POR_5e-2":12.0},
  {"depth":2739.87,"POR":11.1,"POR_1e-1":11.4,"POR_1e-2":10.9,"POR_2e-1":10.8,"POR_2e-2":11.2,"POR_5e-1":11.5,"POR_5e-2":11.0},
  {"depth":2740.18,"POR":9.7,"POR_1e-1":9.9,"POR_1e-2":9.6,"POR_2e-1":9.3,"POR_2e-2":9.8,"POR_5e-1":10.1,"POR_5e-2":9.5},
  {"depth":2740.59,"POR":10.5,"POR_1e-1":10.7,"POR_1e-2":10.4,"POR_2e-1":10.3,"POR_2e-2":10.6,"POR_5e-1":10.9,"POR_5e-2":10.4},
  {"depth":2741.0,"POR":10.9,"POR_1e-1":10.8,"POR_1e-2":10.7,"POR_2e-1":10.6,"POR_2e-2":10.8,"POR_5e-1":11.0,"POR_5e-2":10.8},
  {"depth":2741.61,"POR":9.7,"POR_1e-1":9.9,"POR_1e-2":9.6,"POR_2e-1":9.4,"POR_2e-2":9.8,"POR_5e-1":9.5,"POR_5e-2":9.9},
  {"depth":2742.01,"POR":9.7,"POR_1e-1":10.0,"POR_1e-2":9.9,"POR_2e-1":9.6,"POR_2e-2":9.8,"POR_5e-1":9.6,"POR_5e-2":10.0},
  {"depth":2742.42,"POR":10.9,"POR_1e-1":11.1,"POR_1e-2":11.0,"POR_2e-1":10.8,"POR_2e-2":11.0,"POR_5e-1":10.7,"POR_5e-2":11.2},
  {"depth":2742.93,"POR":11.5,"POR_1e-1":11.7,"POR_1e-2":11.6,"POR_2e-1":11.4,"POR_2e-2":11.5,"POR_5e-1":11.3,"POR_5e-2":11.6},
  {"depth":2743.44,"POR":10.1,"POR_1e-1":10.4,"POR_1e-2":10.2,"POR_2e-1":10.0,"POR_2e-2":10.3,"POR_5e-1":10.3,"POR_5e-2":10.1},
  {"depth":2744.05,"POR":8.6,"POR_1e-1":8.8,"POR_1e-2":8.4,"POR_2e-1":8.5,"POR_2e-2":8.7,"POR_5e-1":9.1,"POR_5e-2":8.5},
  {"depth":2744.46,"POR":7.6,"POR_1e-1":7.9,"POR_1e-2":7.5,"POR_2e-1":7.7,"POR_2e-2":7.8,"POR_5e-1":8.2,"POR_5e-2":7.6},
  {"depth":2744.72,"POR":7.4,"POR_1e-1":7.7,"POR_1e-2":7.6,"POR_2e-1":7.3,"POR_2e-2":7.5,"POR_5e-1":7.9,"POR_5e-2":7.4},
  {"depth":2745.07,"POR":8.6,"POR_1e-1":8.8,"POR_1e-2":8.9,"POR_2e-1":8.4,"POR_2e-2":8.7,"POR_5e-1":8.9,"POR_5e-2":8.8},
  {"depth":2745.33,"POR":9.7,"POR_1e-1":9.6,"POR_1e-2":9.9,"POR_2e-1":9.5,"POR_2e-2":9.8,"POR_5e-1":9.7,"POR_5e-2":9.8},
  {"depth":2745.68,"POR":9.0,"POR_1e-1":8.8,"POR_1e-2":9.1,"POR_2e-1":8.9,"POR_2e-2":9.0,"POR_5e-1":9.0,"POR_5e-2":8.9},
  {"depth":2745.89,"POR":7.0,"POR_1e-1":7.1,"POR_1e-2":6.9,"POR_2e-1":7.2,"POR_2e-2":7.0,"POR_5e-1":7.3,"POR_5e-2":7.1},
  {"depth":2745.99,"POR":6.2,"POR_1e-1":6.4,"POR_1e-2":6.1,"POR_2e-1":6.5,"POR_2e-2":6.3,"POR_5e-1":6.6,"POR_5e-2":6.2},
  {"depth":2746.4,"POR":8.2,"POR_1e-1":8.4,"POR_1e-2":8.3,"POR_2e-1":8.6,"POR_2e-2":8.3,"POR_5e-1":8.7,"POR_5e-2":8.5},
  {"depth":2746.75,"POR":9.7,"POR_1e-1":9.6,"POR_1e-2":9.5,"POR_2e-1":9.8,"POR_2e-2":9.6,"POR_5e-1":10.3,"POR_5e-2":9.8},
  {"depth":2747.11,"POR":8.6,"POR_1e-1":8.5,"POR_1e-2":8.2,"POR_2e-1":8.7,"POR_2e-2":8.5,"POR_5e-1":8.9,"POR_5e-2":8.7},
  {"depth":2747.52,"POR":7.0,"POR_1e-1":6.8,"POR_1e-2":6.5,"POR_2e-1":7.1,"POR_2e-2":6.7,"POR_5e-1":7.2,"POR_5e-2":7.0},
  {"depth":2747.82,"POR":5.65,"POR_1e-1":5.6,"POR_1e-2":5.2,"POR_2e-1":5.8,"POR_2e-2":5.3,"POR_5e-1":5.9,"POR_5e-2":5.8},
  {"depth":2748.03,"POR":6.4,"POR_1e-1":6.5,"POR_1e-2":6.2,"POR_2e-1":6.6,"POR_2e-2":6.4,"POR_5e-1":6.8,"POR_5e-2":6.5},
  {"depth":2748.33,"POR":8.6,"POR_1e-1":8.8,"POR_1e-2":8.5,"POR_2e-1":8.7,"POR_2e-2":8.6,"POR_5e-1":8.9,"POR_5e-2":8.9},
  {"depth":2748.74,"POR":10.1,"POR_1e-1":10.3,"POR_1e-2":10.2,"POR_2e-1":10.1,"POR_2e-2":10.2,"POR_5e-1":10.3,"POR_5e-2":10.4},
  {"depth":2749.15,"POR":10.9,"POR_1e-1":11.0,"POR_1e-2":11.2,"POR_2e-1":11.1,"POR_2e-2":11.0,"POR_5e-1":10.8,"POR_5e-2":11.1},
  {"depth":2749.56,"POR":11.3,"POR_1e-1":11.4,"POR_1e-2":11.6,"POR_2e-1":11.5,"POR_2e-2":11.3,"POR_5e-1":11.2,"POR_5e-2":11.5},
  {"depth":2749.86,"POR":11.7,"POR_1e-1":11.5,"POR_1e-2":11.8,"POR_2e-1":11.6,"POR_2e-2":11.7,"POR_5e-1":11.4,"POR_5e-2":11.6},
  {"depth":2750.2,"POR":11.8,"POR_1e-1":11.6,"POR_1e-2":11.9,"POR_2e-1":11.7,"POR_2e-2":11.8,"POR_5e-1":11.5,"POR_5e-2":11.7}
 ],
 "sh": [
  {"depth":2720,"SH":21.0,"SH_1e-1":12.0,"SH_1e-2":13.0,"SH_2e-1":12.6,"SH_2e-2":12.8,"SH_5e-1":12.2,"SH_5e-2":13.5},
  {"depth":2720.27,"SH":24.5,"SH_1e-1":16.0,"SH_1e-2":16.8,"SH_2e-1":16.5,"SH_2e-2":16.6,"SH_5e-1":15.8,"SH_5e-2":17.4},
  {"depth":2720.57,"SH":28.5,"SH_1e-1":21.8,"SH_1e-2":22.0,"SH_2e-1":21.6,"SH_2e-2":21.7,"SH_5e-1":21.0,"SH_5e-2":22.5},
  {"depth":2720.78,"SH":30.6,"SH_1e-1":25.2,"SH_1e-2":24.8,"SH_2e-1":24.4,"SH_2e-2":24.5,"SH_5e-1":24.0,"SH_5e-2":24.8},
  {"depth":2720.93,"SH":34.0,"SH_1e-1":27.0,"SH_1e-2":26.3,"SH_2e-1":26.0,"SH_2e-2":26.2,"SH_5e-1":26.4,"SH_5e-2":25.4},
  {"depth":2721.06,"SH":40.1,"SH_1e-1":22.0,"SH_1e-2":21.0,"SH_2e-1":21.5,"SH_2e-2":21.4,"SH_5e-1":22.6,"SH_5e-2":20.5},
  {"depth":2721.13,"SH":28.0,"SH_1e-1":19.8,"SH_1e-2":19.2,"SH_2e-1":19.6,"SH_2e-2":19.5,"SH_5e-1":20.2,"SH_5e-2":19.0},
  {"depth":2721.24,"SH":20.2,"SH_1e-1":15.5,"SH_1e-2":14.5,"SH_2e-1":15.0,"SH_2e-2":15.2,"SH_5e-1":14.8,"SH_5e-2":15.4},
  {"depth":2721.29,"SH":18.5,"SH_1e-1":13.5,"SH_1e-2":13.7,"SH_2e-1":14.0,"SH_2e-2":13.9,"SH_5e-1":13.2,"SH_5e-2":14.3},
  {"depth":2721.49,"SH":17.6,"SH_1e-1":14.2,"SH_1e-2":15.5,"SH_2e-1":15.2,"SH_2e-2":15.0,"SH_5e-1":14.6,"SH_5e-2":15.8},
  {"depth":2721.59,"SH":18.0,"SH_1e-1":13.5,"SH_1e-2":16.3,"SH_2e-1":16.0,"SH_2e-2":15.8,"SH_5e-1":15.8,"SH_5e-2":16.2},
  {"depth":2721.8,"SH":18.6,"SH_1e-1":12.8,"SH_1e-2":12.6,"SH_2e-1":13.5,"SH_2e-2":13.2,"SH_5e-1":12.4,"SH_5e-2":13.0},
  {"depth":2721.9,"SH":17.8,"SH_1e-1":12.6,"SH_1e-2":11.4,"SH_2e-1":12.6,"SH_2e-2":12.4,"SH_5e-1":12.0,"SH_5e-2":12.3},
  {"depth":2722.1,"SH":17.0,"SH_1e-1":13.2,"SH_1e-2":13.0,"SH_2e-1":14.2,"SH_2e-2":13.8,"SH_5e-1":12.6,"SH_5e-2":13.9},
  {"depth":2722.31,"SH":18.0,"SH_1e-1":16.8,"SH_1e-2":17.6,"SH_2e-1":17.6,"SH_2e-2":17.4,"SH_5e-1":15.8,"SH_5e-2":17.9},
  {"depth":2722.71,"SH":20.6,"SH_1e-1":20.2,"SH_1e-2":20.9,"SH_2e-1":20.6,"SH_2e-2":20.5,"SH_5e-1":19.6,"SH_5e-2":20.8},
  {"depth":2723.17,"SH":22.5,"SH_1e-1":21.9,"SH_1e-2":22.6,"SH_2e-1":22.2,"SH_2e-2":22.0,"SH_5e-1":21.4,"SH_5e-2":22.3},
  {"depth":2723.43,"SH":19.0,"SH_1e-1":18.4,"SH_1e-2":18.8,"SH_2e-1":18.9,"SH_2e-2":18.6,"SH_5e-1":18.0,"SH_5e-2":19.2},
  {"depth":2723.6,"SH":16.5,"SH_1e-1":13.4,"SH_1e-2":13.0,"SH_2e-1":14.0,"SH_2e-2":13.8,"SH_5e-1":13.2,"SH_5e-2":14.6},
  {"depth":2723.78,"SH":14.5,"SH_1e-1":11.6,"SH_1e-2":10.4,"SH_2e-1":11.4,"SH_2e-2":11.2,"SH_5e-1":11.0,"SH_5e-2":11.8},
  {"depth":2724.04,"SH":13.8,"SH_1e-1":12.2,"SH_1e-2":12.0,"SH_2e-1":12.6,"SH_2e-2":12.4,"SH_5e-1":11.8,"SH_5e-2":12.8},
  {"depth":2724.34,"SH":13.0,"SH_1e-1":11.2,"SH_1e-2":11.4,"SH_2e-1":11.6,"SH_2e-2":11.3,"SH_5e-1":10.6,"SH_5e-2":11.6},
  {"depth":2724.75,"SH":14.3,"SH_1e-1":14.0,"SH_1e-2":14.3,"SH_2e-1":14.2,"SH_2e-2":14.1,"SH_5e-1":13.6,"SH_5e-2":14.5},
  {"depth":2725.11,"SH":18.8,"SH_1e-1":17.6,"SH_1e-2":18.3,"SH_2e-1":18.0,"SH_2e-2":17.8,"SH_5e-1":17.6,"SH_5e-2":18.5},
  {"depth":2725.41,"SH":19.6,"SH_1e-1":18.6,"SH_1e-2":18.9,"SH_2e-1":18.7,"SH_2e-2":18.5,"SH_5e-1":18.5,"SH_5e-2":19.1},
  {"depth":2725.87,"SH":20.2,"SH_1e-1":19.4,"SH_1e-2":19.6,"SH_2e-1":19.7,"SH_2e-2":19.5,"SH_5e-1":19.8,"SH_5e-2":19.9},
  {"depth":2726.13,"SH":30.0,"SH_1e-1":24.8,"SH_1e-2":26.5,"SH_2e-1":28.4,"SH_2e-2":28.0,"SH_5e-1":25.4,"SH_5e-2":27.0},
  {"depth":2726.49,"SH":19.5,"SH_1e-1":20.0,"SH_1e-2":20.2,"SH_2e-1":20.3,"SH_2e-2":20.2,"SH_5e-1":20.6,"SH_5e-2":20.0},
  {"depth":2726.69,"SH":17.6,"SH_1e-1":16.4,"SH_1e-2":16.6,"SH_2e-1":16.8,"SH_2e-2":16.6,"SH_5e-1":16.2,"SH_5e-2":16.8},
  {"depth":2726.89,"SH":21.0,"SH_1e-1":19.4,"SH_1e-2":19.6,"SH_2e-1":19.8,"SH_2e-2":19.5,"SH_5e-1":19.8,"SH_5e-2":19.4},
  {"depth":2727.15,"SH":25.2,"SH_1e-1":24.2,"SH_1e-2":23.8,"SH_2e-1":24.5,"SH_2e-2":24.0,"SH_5e-1":23.6,"SH_5e-2":22.8},
  {"depth":2727.38,"SH":22.2,"SH_1e-1":21.2,"SH_1e-2":20.9,"SH_2e-1":21.2,"SH_2e-2":21.0,"SH_5e-1":21.4,"SH_5e-2":20.6},
  {"depth":2727.61,"SH":31.0,"SH_1e-1":25.4,"SH_1e-2":21.5,"SH_2e-1":24.5,"SH_2e-2":21.6,"SH_5e-1":23.5,"SH_5e-2":23.5},
  {"depth":2727.76,"SH":14.3,"SH_1e-1":12.3,"SH_1e-2":12.0,"SH_2e-1":12.8,"SH_2e-2":12.4,"SH_5e-1":11.1,"SH_5e-2":12.6},
  {"depth":2728.22,"SH":23.5,"SH_1e-1":21.2,"SH_1e-2":20.9,"SH_2e-1":21.4,"SH_2e-2":21.0,"SH_5e-1":20.4,"SH_5e-2":20.6},
  {"depth":2728.68,"SH":33.6,"SH_1e-1":27.0,"SH_1e-2":29.3,"SH_2e-1":27.4,"SH_2e-2":27.2,"SH_5e-1":27.0,"SH_5e-2":26.0},
  {"depth":2728.83,"SH":28.5,"SH_1e-1":24.8,"SH_1e-2":24.8,"SH_2e-1":24.9,"SH_2e-2":24.6,"SH_5e-1":24.4,"SH_5e-2":23.4},
  {"depth":2729.08,"SH":21.5,"SH_1e-1":20.4,"SH_1e-2":20.2,"SH_2e-1":20.5,"SH_2e-2":20.2,"SH_5e-1":19.8,"SH_5e-2":20.0},
  {"depth":2729.34,"SH":15.5,"SH_1e-1":16.2,"SH_1e-2":16.0,"SH_2e-1":16.4,"SH_2e-2":16.1,"SH_5e-1":15.8,"SH_5e-2":16.0},
  {"depth":2729.65,"SH":13.0,"SH_1e-1":15.0,"SH_1e-2":15.2,"SH_2e-1":15.4,"SH_2e-2":15.0,"SH_5e-1":14.8,"SH_5e-2":14.6},
  {"depth":2729.9,"SH":10.2,"SH_1e-1":9.9,"SH_1e-2":9.2,"SH_2e-1":10.0,"SH_2e-2":9.8,"SH_5e-1":9.7,"SH_5e-2":9.6},
  {"depth":2730.05,"SH":9.8,"SH_1e-1":8.9,"SH_1e-2":8.3,"SH_2e-1":9.0,"SH_2e-2":8.8,"SH_5e-1":8.8,"SH_5e-2":8.6},
  {"depth":2730.46,"SH":15.6,"SH_1e-1":16.0,"SH_1e-2":17.0,"SH_2e-1":16.2,"SH_2e-2":16.0,"SH_5e-1":15.8,"SH_5e-2":15.4},
  {"depth":2730.77,"SH":8.5,"SH_1e-1":7.6,"SH_1e-2":7.8,"SH_2e-1":7.5,"SH_2e-2":7.6,"SH_5e-1":7.2,"SH_5e-2":7.9},
  {"depth":2731.07,"SH":9.6,"SH_1e-1":9.2,"SH_1e-2":9.0,"SH_2e-1":9.1,"SH_2e-2":9.2,"SH_5e-1":8.8,"SH_5e-2":9.4},
  {"depth":2731.48,"SH":7.4,"SH_1e-1":7.3,"SH_1e-2":7.2,"SH_2e-1":7.0,"SH_2e-2":7.1,"SH_5e-1":6.2,"SH_5e-2":7.5},
  {"depth":2731.79,"SH":9.3,"SH_1e-1":9.5,"SH_1e-2":9.6,"SH_2e-1":9.2,"SH_2e-2":9.4,"SH_5e-1":8.7,"SH_5e-2":9.8},
  {"depth":2732.3,"SH":12.8,"SH_1e-1":13.0,"SH_1e-2":13.2,"SH_2e-1":12.9,"SH_2e-2":13.0,"SH_5e-1":12.4,"SH_5e-2":13.3},
  {"depth":2732.7,"SH":17.8,"SH_1e-1":17.6,"SH_1e-2":17.3,"SH_2e-1":17.5,"SH_2e-2":17.4,"SH_5e-1":16.9,"SH_5e-2":17.7},
  {"depth":2733.11,"SH":19.4,"SH_1e-1":19.7,"SH_1e-2":19.3,"SH_2e-1":19.5,"SH_2e-2":19.4,"SH_5e-1":19.0,"SH_5e-2":19.6},
  {"depth":2733.37,"SH":20.8,"SH_1e-1":22.2,"SH_1e-2":20.5,"SH_2e-1":21.2,"SH_2e-2":21.0,"SH_5e-1":21.3,"SH_5e-2":21.0},
  {"depth":2733.72,"SH":12.6,"SH_1e-1":14.2,"SH_1e-2":13.8,"SH_2e-1":13.6,"SH_2e-2":13.9,"SH_5e-1":14.1,"SH_5e-2":13.2},
  {"depth":2734.03,"SH":5.6,"SH_1e-1":6.6,"SH_1e-2":6.5,"SH_2e-1":6.3,"SH_2e-2":6.2,"SH_5e-1":6.4,"SH_5e-2":6.0},
  {"depth":2734.44,"SH":6.6,"SH_1e-1":7.0,"SH_1e-2":6.9,"SH_2e-1":6.8,"SH_2e-2":6.9,"SH_5e-1":6.6,"SH_5e-2":6.8},
  {"depth":2734.95,"SH":7.6,"SH_1e-1":7.8,"SH_1e-2":7.9,"SH_2e-1":7.8,"SH_2e-2":7.7,"SH_5e-1":7.9,"SH_5e-2":7.7},
  {"depth":2735.08,"SH":8.8,"SH_1e-1":9.3,"SH_1e-2":8.8,"SH_2e-1":9.1,"SH_2e-2":9.0,"SH_5e-1":9.6,"SH_5e-2":9.0},
  {"depth":2735.39,"SH":7.0,"SH_1e-1":7.0,"SH_1e-2":7.3,"SH_2e-1":7.2,"SH_2e-2":7.1,"SH_5e-1":7.6,"SH_5e-2":7.2},
  {"depth":2735.59,"SH":5.9,"SH_1e-1":2.3,"SH_1e-2":5.5,"SH_2e-1":4.8,"SH_2e-2":4.6,"SH_5e-1":5.8,"SH_5e-2":5.0},
  {"depth":2735.75,"SH":8.5,"SH_1e-1":6.0,"SH_1e-2":7.5,"SH_2e-1":7.2,"SH_2e-2":7.0,"SH_5e-1":8.0,"SH_5e-2":7.6},
  {"depth":2736.0,"SH":18.9,"SH_1e-1":16.0,"SH_1e-2":16.3,"SH_2e-1":16.6,"SH_2e-2":16.4,"SH_5e-1":15.9,"SH_5e-2":17.0},
  {"depth":2736.36,"SH":28.7,"SH_1e-1":25.4,"SH_1e-2":25.8,"SH_2e-1":26.3,"SH_2e-2":26.0,"SH_5e-1":25.4,"SH_5e-2":26.1},
  {"depth":2736.71,"SH":17.0,"SH_1e-1":20.2,"SH_1e-2":20.0,"SH_2e-1":19.8,"SH_2e-2":20.1,"SH_5e-1":20.4,"SH_5e-2":19.6},
  {"depth":2737.0,"SH":13.7,"SH_1e-1":14.5,"SH_1e-2":14.6,"SH_2e-1":14.0,"SH_2e-2":14.3,"SH_5e-1":14.8,"SH_5e-2":14.0},
  {"depth":2737.38,"SH":27.7,"SH_1e-1":24.2,"SH_1e-2":24.6,"SH_2e-1":25.0,"SH_2e-2":24.8,"SH_5e-1":24.0,"SH_5e-2":24.3},
  {"depth":2737.73,"SH":13.7,"SH_1e-1":14.6,"SH_1e-2":14.2,"SH_2e-1":14.0,"SH_2e-2":14.4,"SH_5e-1":14.9,"SH_5e-2":14.1},
  {"depth":2738.14,"SH":18.9,"SH_1e-1":18.0,"SH_1e-2":18.3,"SH_2e-1":18.4,"SH_2e-2":18.2,"SH_5e-1":18.0,"SH_5e-2":18.5},
  {"depth":2738.4,"SH":20.2,"SH_1e-1":22.4,"SH_1e-2":22.6,"SH_2e-1":22.0,"SH_2e-2":22.5,"SH_5e-1":22.1,"SH_5e-2":21.8},
  {"depth":2738.85,"SH":17.0,"SH_1e-1":16.6,"SH_1e-2":16.2,"SH_2e-1":16.5,"SH_2e-2":16.3,"SH_5e-1":16.0,"SH_5e-2":16.6},
  {"depth":2739.36,"SH":24.1,"SH_1e-1":20.6,"SH_1e-2":20.9,"SH_2e-1":21.0,"SH_2e-2":20.8,"SH_5e-1":20.6,"SH_5e-2":21.2},
  {"depth":2739.66,"SH":17.0,"SH_1e-1":16.8,"SH_1e-2":17.0,"SH_2e-1":16.9,"SH_2e-2":17.1,"SH_5e-1":16.4,"SH_5e-2":17.2},
  {"depth":2739.87,"SH":13.7,"SH_1e-1":12.6,"SH_1e-2":12.3,"SH_2e-1":12.5,"SH_2e-2":12.4,"SH_5e-1":11.5,"SH_5e-2":12.8},
  {"depth":2740.07,"SH":16.5,"SH_1e-1":15.4,"SH_1e-2":15.0,"SH_2e-1":15.2,"SH_2e-2":15.1,"SH_5e-1":14.8,"SH_5e-2":15.3},
  {"depth":2740.26,"SH":21.5,"SH_1e-1":19.5,"SH_1e-2":19.0,"SH_2e-1":19.2,"SH_2e-2":19.1,"SH_5e-1":18.8,"SH_5e-2":19.4},
  {"depth":2740.52,"SH":30.3,"SH_1e-1":24.0,"SH_1e-2":23.5,"SH_2e-1":23.3,"SH_2e-2":23.6,"SH_5e-1":23.2,"SH_5e-2":23.8},
  {"depth":2740.8,"SH":15.6,"SH_1e-1":13.7,"SH_1e-2":13.9,"SH_2e-1":14.0,"SH_2e-2":13.8,"SH_5e-1":12.4,"SH_5e-2":14.2},
  {"depth":2741.0,"SH":14.5,"SH_1e-1":12.0,"SH_1e-2":11.7,"SH_2e-1":12.2,"SH_2e-2":11.9,"SH_5e-1":11.0,"SH_5e-2":12.1},
  {"depth":2741.2,"SH":18.3,"SH_1e-1":17.0,"SH_1e-2":16.6,"SH_2e-1":16.9,"SH_2e-2":16.8,"SH_5e-1":15.6,"SH_5e-2":17.3},
  {"depth":2741.7,"SH":11.1,"SH_1e-1":9.8,"SH_1e-2":9.9,"SH_2e-1":10.0,"SH_2e-2":9.7,"SH_5e-1":8.6,"SH_5e-2":10.1},
  {"depth":2742.01,"SH":11.6,"SH_1e-1":8.7,"SH_1e-2":8.4,"SH_2e-1":8.8,"SH_2e-2":8.5,"SH_5e-1":8.4,"SH_5e-2":8.9},
  {"depth":2742.5,"SH":13.2,"SH_1e-1":11.3,"SH_1e-2":11.0,"SH_2e-1":11.6,"SH_2e-2":11.2,"SH_5e-1":10.5,"SH_5e-2":11.4},
  {"depth":2742.83,"SH":17.6,"SH_1e-1":15.8,"SH_1e-2":15.6,"SH_2e-1":15.5,"SH_2e-2":15.7,"SH_5e-1":14.8,"SH_5e-2":16.0},
  {"depth":2743.29,"SH":19.9,"SH_1e-1":19.0,"SH_1e-2":18.6,"SH_2e-1":18.4,"SH_2e-2":18.7,"SH_5e-1":18.2,"SH_5e-2":19.1},
  {"depth":2743.65,"SH":14.3,"SH_1e-1":13.3,"SH_1e-2":13.0,"SH_2e-1":13.4,"SH_2e-2":13.1,"SH_5e-1":12.0,"SH_5e-2":13.6},
  {"depth":2743.95,"SH":17.5,"SH_1e-1":16.6,"SH_1e-2":16.3,"SH_2e-1":16.0,"SH_2e-2":16.4,"SH_5e-1":15.0,"SH_5e-2":16.8},
  {"depth":2744.25,"SH":19.6,"SH_1e-1":18.3,"SH_1e-2":18.0,"SH_2e-1":17.2,"SH_2e-2":18.1,"SH_5e-1":16.2,"SH_5e-2":18.5},
  {"depth":2744.46,"SH":19.0,"SH_1e-1":18.9,"SH_1e-2":18.6,"SH_2e-1":17.8,"SH_2e-2":18.7,"SH_5e-1":17.0,"SH_5e-2":19.2},
  {"depth":2744.87,"SH":17.0,"SH_1e-1":15.2,"SH_1e-2":15.0,"SH_2e-1":15.6,"SH_2e-2":15.1,"SH_5e-1":13.8,"SH_5e-2":15.5},
  {"depth":2745.27,"SH":19.8,"SH_1e-1":18.9,"SH_1e-2":19.0,"SH_2e-1":18.6,"SH_2e-2":18.8,"SH_5e-1":17.6,"SH_5e-2":19.2},
  {"depth":2745.68,"SH":21.5,"SH_1e-1":20.9,"SH_1e-2":20.6,"SH_2e-1":20.2,"SH_2e-2":20.7,"SH_5e-1":20.0,"SH_5e-2":21.2},
  {"depth":2745.94,"SH":26.1,"SH_1e-1":22.2,"SH_1e-2":22.8,"SH_2e-1":21.8,"SH_2e-2":22.4,"SH_5e-1":21.6,"SH_5e-2":24.0},
  {"depth":2746.4,"SH":20.2,"SH_1e-1":18.9,"SH_1e-2":18.2,"SH_2e-1":18.6,"SH_2e-2":18.5,"SH_5e-1":17.8,"SH_5e-2":19.6},
  {"depth":2746.7,"SH":17.6,"SH_1e-1":17.0,"SH_1e-2":17.8,"SH_2e-1":16.4,"SH_2e-2":17.1,"SH_5e-1":16.0,"SH_5e-2":18.6},
  {"depth":2747.0,"SH":16.5,"SH_1e-1":16.0,"SH_1e-2":17.2,"SH_2e-1":15.8,"SH_2e-2":16.2,"SH_5e-1":15.2,"SH_5e-2":16.6},
  {"depth":2747.32,"SH":15.6,"SH_1e-1":13.0,"SH_1e-2":13.6,"SH_2e-1":13.9,"SH_2e-2":13.5,"SH_5e-1":13.2,"SH_5e-2":14.0},
  {"depth":2747.42,"SH":14.0,"SH_1e-1":11.2,"SH_1e-2":12.4,"SH_2e-1":12.8,"SH_2e-2":12.3,"SH_5e-1":12.0,"SH_5e-2":12.5},
  {"depth":2747.73,"SH":12.4,"SH_1e-1":9.4,"SH_1e-2":10.0,"SH_2e-1":10.6,"SH_2e-2":10.2,"SH_5e-1":10.1,"SH_5e-2":10.3},
  {"depth":2748.03,"SH":14.5,"SH_1e-1":13.0,"SH_1e-2":12.6,"SH_2e-1":12.9,"SH_2e-2":12.8,"SH_5e-1":12.7,"SH_5e-2":13.2},
  {"depth":2748.44,"SH":20.2,"SH_1e-1":18.9,"SH_1e-2":18.6,"SH_2e-1":18.4,"SH_2e-2":18.8,"SH_5e-1":18.2,"SH_5e-2":19.0},
  {"depth":2748.8,"SH":23.8,"SH_1e-1":22.0,"SH_1e-2":21.8,"SH_2e-1":22.4,"SH_2e-2":21.9,"SH_5e-1":21.4,"SH_5e-2":22.0},
  {"depth":2749.2,"SH":18.9,"SH_1e-1":18.3,"SH_1e-2":18.0,"SH_2e-1":18.5,"SH_2e-2":18.2,"SH_5e-1":17.4,"SH_5e-2":18.6},
  {"depth":2749.5,"SH":22.5,"SH_1e-1":19.8,"SH_1e-2":19.6,"SH_2e-1":20.0,"SH_2e-2":19.7,"SH_5e-1":19.0,"SH_5e-2":20.2},
  {"depth":2749.86,"SH":18.3,"SH_1e-1":17.6,"SH_1e-2":17.8,"SH_2e-1":17.4,"SH_2e-2":17.6,"SH_5e-1":17.0,"SH_5e-2":17.9},
  {"depth":2750.2,"SH":18.0,"SH_1e-1":17.3,"SH_1e-2":17.5,"SH_2e-1":17.2,"SH_2e-2":17.4,"SH_5e-1":16.8,"SH_5e-2":17.6}
 ]
},
"concat": [
  {"width": 235, "height": 459, "layer": [
   {"data": {"name": "hrule"}, "transform": [{"filter": "datum.track == 't1'"}], "mark": {"type": "rule", "strokeWidth": 2},
    "encoding": {"y": {"field": "row", "type": "ordinal", "bandPosition": 1, "scale": {"type": "band", "domain": [1,2,3,4,5,6,7,8,9,10,11,12,13,14], "paddingInner": 0, "paddingOuter": 0}, "axis": null},
     "color": {"field": "curve", "type": "nominal", "legend": null, "scale": {"domain": ["CAL","GR","SP","AC","NEU","DEN","RT","POR","SH","1e-1","1e-2","2e-1","2e-2","5e-1","5e-2","none"], "range": ["#993300","#0000cc","#ff0000","#0000cc","#008055","#ff0000","#0000cc","#000000","#ff0000","#7f7000","#00a2e8","#800000","#800080","#007a00","#ff6a00","#000000"]}},
     "strokeDash": {"field": "curve", "type": "nominal", "legend": null, "scale": {"domain": ["CAL","GR","SP","AC","NEU","DEN","RT","POR","SH","1e-1","1e-2","2e-1","2e-2","5e-1","5e-2","none"], "range": [[6,4],[1,0],[20,5],[1,0],[2.5,2.5],[7,4],[6,3],[1,0],[1,0],[1,0],[1,0],[1,0],[1,0],[1,0],[1,0],[1,0]]}}}},
   {"data": {"name": "head"}, "transform": [{"filter": "datum.track == 't1'"}],
    "encoding": {
     "y": {"field": "row", "type": "ordinal", "bandPosition": 0.5, "scale": {"type": "band", "domain": [1,2,3,4,5,6,7,8,9,10,11,12,13,14], "paddingInner": 0, "paddingOuter": 0}, "axis": null},
     "x": {"field": "col", "type": "nominal", "scale": {"type": "point", "domain": ["left","center","right"], "padding": 0}, "axis": null},
     "text": {"field": "text", "type": "nominal"},
     "color": {"field": "ink", "type": "nominal", "legend": null, "scale": {"domain": ["CAL","GR","SP","AC","NEU","DEN","RT","POR","SH","1e-1","1e-2","2e-1","2e-2","5e-1","5e-2","none"], "range": ["#993300","#0000cc","#ff0000","#0000cc","#008055","#ff0000","#0000cc","#000000","#ff0000","#7f7000","#00a2e8","#800000","#800080","#007a00","#ff6a00","#000000"]}}},
    "layer": [
     {"transform": [{"filter": "datum.kind == 'title'"}], "mark": {"type": "text", "baseline": "middle", "align": "center", "fontWeight": "bold", "fontSize": 25, "dy": -2}},
     {"transform": [{"filter": "datum.kind == 'value' && datum.col == 'left'"}], "mark": {"type": "text", "baseline": "middle", "align": "left", "dx": 3, "dy": 2, "fontSize": 23}},
     {"transform": [{"filter": "datum.kind == 'value' && datum.col == 'right'"}], "mark": {"type": "text", "baseline": "middle", "align": "right", "dx": -3, "dy": 2, "fontSize": 23}},
     {"transform": [{"filter": "datum.kind == 'unit'"}], "mark": {"type": "text", "baseline": "middle", "align": "center", "fontSize": 21}}
    ]}
  ]},
  {"width": 124, "height": 459, "data": {"name": "head"}, "transform": [{"filter": "datum.track == 't2'"}],
   "mark": {"type": "text", "baseline": "middle", "align": "center", "fontWeight": "bold", "fontSize": 25, "lineBreak": "\n", "lineHeight": 38.5, "dy": -4},
   "encoding": {"y": {"field": "row", "type": "ordinal", "bandPosition": 0.5, "scale": {"type": "band", "domain": [1,2,3,4,5,6,7,8,9,10,11,12,13,14], "paddingInner": 0, "paddingOuter": 0}, "axis": null},
    "text": {"field": "text", "type": "nominal"}}},
  {"width": 236, "height": 459, "layer": [
   {"data": {"name": "hrule"}, "transform": [{"filter": "datum.track == 't3'"}], "mark": {"type": "rule", "strokeWidth": 2},
    "encoding": {"y": {"field": "row", "type": "ordinal", "bandPosition": 1, "scale": {"type": "band", "domain": [1,2,3,4,5,6,7,8,9,10,11,12,13,14], "paddingInner": 0, "paddingOuter": 0}, "axis": null},
     "color": {"field": "curve", "type": "nominal", "legend": null, "scale": {"domain": ["CAL","GR","SP","AC","NEU","DEN","RT","POR","SH","1e-1","1e-2","2e-1","2e-2","5e-1","5e-2","none"], "range": ["#993300","#0000cc","#ff0000","#0000cc","#008055","#ff0000","#0000cc","#000000","#ff0000","#7f7000","#00a2e8","#800000","#800080","#007a00","#ff6a00","#000000"]}},
     "strokeDash": {"field": "curve", "type": "nominal", "legend": null, "scale": {"domain": ["CAL","GR","SP","AC","NEU","DEN","RT","POR","SH","1e-1","1e-2","2e-1","2e-2","5e-1","5e-2","none"], "range": [[6,4],[1,0],[20,5],[1,0],[2.5,2.5],[7,4],[6,3],[1,0],[1,0],[1,0],[1,0],[1,0],[1,0],[1,0],[1,0],[1,0]]}}}},
   {"data": {"name": "head"}, "transform": [{"filter": "datum.track == 't3'"}],
    "encoding": {
     "y": {"field": "row", "type": "ordinal", "bandPosition": 0.5, "scale": {"type": "band", "domain": [1,2,3,4,5,6,7,8,9,10,11,12,13,14], "paddingInner": 0, "paddingOuter": 0}, "axis": null},
     "x": {"field": "col", "type": "nominal", "scale": {"type": "point", "domain": ["left","center","right"], "padding": 0}, "axis": null},
     "text": {"field": "text", "type": "nominal"},
     "color": {"field": "ink", "type": "nominal", "legend": null, "scale": {"domain": ["CAL","GR","SP","AC","NEU","DEN","RT","POR","SH","1e-1","1e-2","2e-1","2e-2","5e-1","5e-2","none"], "range": ["#993300","#0000cc","#ff0000","#0000cc","#008055","#ff0000","#0000cc","#000000","#ff0000","#7f7000","#00a2e8","#800000","#800080","#007a00","#ff6a00","#000000"]}}},
    "layer": [
     {"transform": [{"filter": "datum.kind == 'title'"}], "mark": {"type": "text", "baseline": "middle", "align": "center", "fontWeight": "bold", "fontSize": 25, "dy": -2}},
     {"transform": [{"filter": "datum.kind == 'value' && datum.col == 'left'"}], "mark": {"type": "text", "baseline": "middle", "align": "left", "dx": 3, "dy": 2, "fontSize": 23}},
     {"transform": [{"filter": "datum.kind == 'value' && datum.col == 'right'"}], "mark": {"type": "text", "baseline": "middle", "align": "right", "dx": -3, "dy": 2, "fontSize": 23}},
     {"transform": [{"filter": "datum.kind == 'unit'"}], "mark": {"type": "text", "baseline": "middle", "align": "center", "fontSize": 21}}
    ]}
  ]},
  {"width": 254, "height": 459, "layer": [
   {"data": {"name": "hrule"}, "transform": [{"filter": "datum.track == 't4'"}], "mark": {"type": "rule", "strokeWidth": 2},
    "encoding": {"y": {"field": "row", "type": "ordinal", "bandPosition": 1, "scale": {"type": "band", "domain": [1,2,3,4,5,6,7,8,9,10,11,12,13,14], "paddingInner": 0, "paddingOuter": 0}, "axis": null},
     "color": {"field": "curve", "type": "nominal", "legend": null, "scale": {"domain": ["CAL","GR","SP","AC","NEU","DEN","RT","POR","SH","1e-1","1e-2","2e-1","2e-2","5e-1","5e-2","none"], "range": ["#993300","#0000cc","#ff0000","#0000cc","#008055","#ff0000","#0000cc","#000000","#ff0000","#7f7000","#00a2e8","#800000","#800080","#007a00","#ff6a00","#000000"]}},
     "strokeDash": {"field": "curve", "type": "nominal", "legend": null, "scale": {"domain": ["CAL","GR","SP","AC","NEU","DEN","RT","POR","SH","1e-1","1e-2","2e-1","2e-2","5e-1","5e-2","none"], "range": [[6,4],[1,0],[20,5],[1,0],[2.5,2.5],[7,4],[6,3],[1,0],[1,0],[1,0],[1,0],[1,0],[1,0],[1,0],[1,0],[1,0]]}}}},
   {"data": {"name": "head"}, "transform": [{"filter": "datum.track == 't4'"}],
    "encoding": {
     "y": {"field": "row", "type": "ordinal", "bandPosition": 0.5, "scale": {"type": "band", "domain": [1,2,3,4,5,6,7,8,9,10,11,12,13,14], "paddingInner": 0, "paddingOuter": 0}, "axis": null},
     "x": {"field": "col", "type": "nominal", "scale": {"type": "point", "domain": ["left","center","right"], "padding": 0}, "axis": null},
     "text": {"field": "text", "type": "nominal"},
     "color": {"field": "ink", "type": "nominal", "legend": null, "scale": {"domain": ["CAL","GR","SP","AC","NEU","DEN","RT","POR","SH","1e-1","1e-2","2e-1","2e-2","5e-1","5e-2","none"], "range": ["#993300","#0000cc","#ff0000","#0000cc","#008055","#ff0000","#0000cc","#000000","#ff0000","#7f7000","#00a2e8","#800000","#800080","#007a00","#ff6a00","#000000"]}}},
    "layer": [
     {"transform": [{"filter": "datum.kind == 'title'"}], "mark": {"type": "text", "baseline": "middle", "align": "center", "fontWeight": "bold", "fontSize": 25, "dy": -2}},
     {"transform": [{"filter": "datum.kind == 'value' && datum.col == 'left'"}], "mark": {"type": "text", "baseline": "middle", "align": "left", "dx": 3, "dy": 2, "fontSize": 23}},
     {"transform": [{"filter": "datum.kind == 'value' && datum.col == 'right'"}], "mark": {"type": "text", "baseline": "middle", "align": "right", "dx": -3, "dy": 2, "fontSize": 23}},
     {"transform": [{"filter": "datum.kind == 'unit'"}], "mark": {"type": "text", "baseline": "middle", "align": "center", "fontSize": 21}}
    ]}
  ]},
  {"width": 262, "height": 459, "layer": [
   {"data": {"name": "hrule"}, "transform": [{"filter": "datum.track == 't5'"}], "mark": {"type": "rule", "strokeWidth": 3.5},
    "encoding": {"y": {"field": "row", "type": "ordinal", "bandPosition": 1, "scale": {"type": "band", "domain": [1,2,3,4,5,6,7,8,9,10,11,12,13,14], "paddingInner": 0, "paddingOuter": 0}, "axis": null},
     "color": {"field": "curve", "type": "nominal", "legend": null, "scale": {"domain": ["CAL","GR","SP","AC","NEU","DEN","RT","POR","SH","1e-1","1e-2","2e-1","2e-2","5e-1","5e-2","none"], "range": ["#993300","#0000cc","#ff0000","#0000cc","#008055","#ff0000","#0000cc","#000000","#ff0000","#7f7000","#00a2e8","#800000","#800080","#007a00","#ff6a00","#000000"]}}}},
   {"data": {"name": "head"}, "transform": [{"filter": "datum.track == 't5'"}],
    "encoding": {
     "y": {"field": "row", "type": "ordinal", "bandPosition": 0.5, "scale": {"type": "band", "domain": [1,2,3,4,5,6,7,8,9,10,11,12,13,14], "paddingInner": 0, "paddingOuter": 0}, "axis": null},
     "x": {"field": "col", "type": "nominal", "scale": {"type": "point", "domain": ["left","center","right"], "padding": 0}, "axis": null},
     "text": {"field": "text", "type": "nominal"},
     "color": {"field": "ink", "type": "nominal", "legend": null, "scale": {"domain": ["CAL","GR","SP","AC","NEU","DEN","RT","POR","SH","1e-1","1e-2","2e-1","2e-2","5e-1","5e-2","none"], "range": ["#993300","#0000cc","#ff0000","#0000cc","#008055","#ff0000","#0000cc","#000000","#ff0000","#7f7000","#00a2e8","#800000","#800080","#007a00","#ff6a00","#000000"]}}},
    "layer": [
     {"transform": [{"filter": "datum.kind == 'title'"}], "mark": {"type": "text", "baseline": "middle", "align": "center", "fontWeight": "bold", "fontSize": 23.5, "dy": -2}},
     {"transform": [{"filter": "datum.kind == 'value' && datum.col == 'left'"}], "mark": {"type": "text", "baseline": "middle", "align": "left", "dx": 4, "fontSize": 20}},
     {"transform": [{"filter": "datum.kind == 'value' && datum.col == 'right'"}], "mark": {"type": "text", "baseline": "middle", "align": "right", "dx": -3, "fontSize": 20}},
     {"transform": [{"filter": "datum.kind == 'unit'"}], "mark": {"type": "text", "baseline": "middle", "align": "center", "fontSize": 20}}
    ]}
  ]},
  {"width": 263, "height": 459, "layer": [
   {"data": {"name": "hrule"}, "transform": [{"filter": "datum.track == 't6'"}], "mark": {"type": "rule", "strokeWidth": 3.5},
    "encoding": {"y": {"field": "row", "type": "ordinal", "bandPosition": 1, "scale": {"type": "band", "domain": [1,2,3,4,5,6,7,8,9,10,11,12,13,14], "paddingInner": 0, "paddingOuter": 0}, "axis": null},
     "color": {"field": "curve", "type": "nominal", "legend": null, "scale": {"domain": ["CAL","GR","SP","AC","NEU","DEN","RT","POR","SH","1e-1","1e-2","2e-1","2e-2","5e-1","5e-2","none"], "range": ["#993300","#0000cc","#ff0000","#0000cc","#008055","#ff0000","#0000cc","#000000","#ff0000","#7f7000","#00a2e8","#800000","#800080","#007a00","#ff6a00","#000000"]}}}},
   {"data": {"name": "head"}, "transform": [{"filter": "datum.track == 't6'"}],
    "encoding": {
     "y": {"field": "row", "type": "ordinal", "bandPosition": 0.5, "scale": {"type": "band", "domain": [1,2,3,4,5,6,7,8,9,10,11,12,13,14], "paddingInner": 0, "paddingOuter": 0}, "axis": null},
     "x": {"field": "col", "type": "nominal", "scale": {"type": "point", "domain": ["left","center","right"], "padding": 0}, "axis": null},
     "text": {"field": "text", "type": "nominal"},
     "color": {"field": "ink", "type": "nominal", "legend": null, "scale": {"domain": ["CAL","GR","SP","AC","NEU","DEN","RT","POR","SH","1e-1","1e-2","2e-1","2e-2","5e-1","5e-2","none"], "range": ["#993300","#0000cc","#ff0000","#0000cc","#008055","#ff0000","#0000cc","#000000","#ff0000","#7f7000","#00a2e8","#800000","#800080","#007a00","#ff6a00","#000000"]}}},
    "layer": [
     {"transform": [{"filter": "datum.kind == 'title'"}], "mark": {"type": "text", "baseline": "middle", "align": "center", "fontWeight": "bold", "fontSize": 23.5, "dy": -2}},
     {"transform": [{"filter": "datum.kind == 'value' && datum.col == 'left'"}], "mark": {"type": "text", "baseline": "middle", "align": "left", "dx": 4, "fontSize": 20}},
     {"transform": [{"filter": "datum.kind == 'value' && datum.col == 'right'"}], "mark": {"type": "text", "baseline": "middle", "align": "right", "dx": -3, "fontSize": 20}},
     {"transform": [{"filter": "datum.kind == 'unit'"}], "mark": {"type": "text", "baseline": "middle", "align": "center", "fontSize": 20}}
    ]}
  ]},
  {"width": 235, "height": 986,
   "encoding": {"y": {"field": "depth", "type": "quantitative", "scale": {"domain": [2720, 2750], "reverse": true, "nice": false, "zero": false},
     "axis": {"values": [2721,2722,2723,2724,2725,2726,2727,2728,2729,2730,2731,2732,2733,2734,2735,2736,2737,2738,2739,2740,2741,2742,2743,2744,2745,2746,2747,2748,2749],
      "gridColor": {"condition": {"test": "datum.value == 2730 || datum.value == 2740", "value": "#8c8c8c"}, "value": "#a6a6a6"},
      "gridWidth": {"condition": {"test": "datum.value == 2730 || datum.value == 2740", "value": 3.2}, "value": 1.6}}},
    "order": {"field": "depth", "type": "quantitative"}},
   "layer": [
    {"data": {"name": "SP"}, "mark": {"type": "line", "color": "#ff0000", "strokeWidth": 2, "strokeDash": [16, 5], "clip": true},
     "encoding": {"x": {"field": "value", "type": "quantitative", "scale": {"domain": [0, 150], "nice": false, "zero": false},
      "axis": {"values": [15,30,45,60,75,90,105,120,135],
       "gridColor": {"condition": {"test": "datum.value == 75", "value": "#8c8c8c"}, "value": "#a6a6a6"},
       "gridWidth": {"condition": {"test": "datum.value == 75", "value": 3.2}, "value": 1.6}}}}},
    {"data": {"name": "CAL"}, "mark": {"type": "line", "color": "#993300", "strokeWidth": 2.2, "strokeDash": [5, 4], "clip": true},
     "encoding": {"x": {"field": "value", "type": "quantitative", "scale": {"domain": [16, 26], "nice": false, "zero": false}, "axis": null}}},
    {"data": {"name": "GR"}, "mark": {"type": "line", "color": "#0000cc", "strokeWidth": 2.2, "clip": true},
     "encoding": {"x": {"field": "value", "type": "quantitative", "scale": {"domain": [0, 150], "nice": false, "zero": false}, "axis": null}}}
   ],
   "resolve": {"scale": {"x": "independent"}}},
  {"width": 124, "height": 986, "data": {"name": "depthlab"},
   "encoding": {"y": {"field": "depth", "type": "quantitative", "scale": {"domain": [2720, 2750], "reverse": true, "nice": false, "zero": false}, "axis": null},
    "text": {"field": "depth", "type": "quantitative", "format": "d"}},
   "layer": [
    {"transform": [{"filter": "datum.depth == 2720"}], "mark": {"type": "text", "baseline": "top", "dy": 4, "fontSize": 23.5, "color": "#000000"}},
    {"transform": [{"filter": "datum.depth == 2730 || datum.depth == 2740"}], "mark": {"type": "text", "baseline": "middle", "fontSize": 23.5, "color": "#000000"}},
    {"transform": [{"filter": "datum.depth == 2750"}], "mark": {"type": "text", "baseline": "alphabetic", "dy": -7, "fontSize": 23.5, "color": "#000000"}}
   ]},
  {"width": 236, "height": 986,
   "encoding": {"y": {"field": "depth", "type": "quantitative", "scale": {"domain": [2720, 2750], "reverse": true, "nice": false, "zero": false},
     "axis": {"values": [2721,2722,2723,2724,2725,2726,2727,2728,2729,2730,2731,2732,2733,2734,2735,2736,2737,2738,2739,2740,2741,2742,2743,2744,2745,2746,2747,2748,2749],
      "gridColor": {"condition": {"test": "datum.value == 2730 || datum.value == 2740", "value": "#8c8c8c"}, "value": "#a6a6a6"},
      "gridWidth": {"condition": {"test": "datum.value == 2730 || datum.value == 2740", "value": 3.2}, "value": 1.6}}},
    "order": {"field": "depth", "type": "quantitative"}},
   "layer": [
    {"data": {"name": "NEU"}, "mark": {"type": "line", "color": "#008055", "strokeWidth": 2.2, "strokeDash": [3, 3], "clip": true},
     "encoding": {"x": {"field": "value", "type": "quantitative", "scale": {"domain": [45, -15], "nice": false, "zero": false}, "axis": null}}},
    {"data": {"name": "DEN"}, "mark": {"type": "line", "color": "#ff0000", "strokeWidth": 2.2, "strokeDash": [7, 4], "clip": true},
     "encoding": {"x": {"field": "value", "type": "quantitative", "scale": {"domain": [1.85, 2.85], "nice": false, "zero": false},
      "axis": {"values": [1.95,2.05,2.15,2.25,2.35,2.45,2.55,2.65,2.75],
       "gridColor": {"condition": {"test": "datum.value == 2.35", "value": "#8c8c8c"}, "value": "#a6a6a6"},
       "gridWidth": {"condition": {"test": "datum.value == 2.35", "value": 3.2}, "value": 1.6}}}}},
    {"data": {"name": "AC"}, "mark": {"type": "line", "color": "#0000cc", "strokeWidth": 2.2, "clip": true},
     "encoding": {"x": {"field": "value", "type": "quantitative", "scale": {"domain": [600, 100], "nice": false, "zero": false}, "axis": null}}}
   ],
   "resolve": {"scale": {"x": "independent"}}},
  {"width": 254, "height": 986, "data": {"name": "RT"},
   "mark": {"type": "line", "color": "#0000cc", "strokeWidth": 2.2, "strokeDash": [6, 4], "clip": true},
   "encoding": {"y": {"field": "depth", "type": "quantitative", "scale": {"domain": [2720, 2750], "reverse": true, "nice": false, "zero": false},
     "axis": {"values": [2721,2722,2723,2724,2725,2726,2727,2728,2729,2730,2731,2732,2733,2734,2735,2736,2737,2738,2739,2740,2741,2742,2743,2744,2745,2746,2747,2748,2749],
      "gridColor": {"condition": {"test": "datum.value == 2730 || datum.value == 2740", "value": "#8c8c8c"}, "value": "#a6a6a6"},
      "gridWidth": {"condition": {"test": "datum.value == 2730 || datum.value == 2740", "value": 3.2}, "value": 1.6}}},
    "order": {"field": "depth", "type": "quantitative"},
    "x": {"field": "value", "type": "quantitative", "scale": {"type": "log", "domain": [0.1, 100], "nice": false},
     "axis": {"values": [0.2,0.3,0.4,0.5,0.6,0.7,0.8,0.9,1,2,3,4,5,6,7,8,9,10,20,30,40,50,60,70,80,90],
      "gridColor": {"condition": {"test": "datum.value == 1 || datum.value == 10", "value": "#8c8c8c"}, "value": "#a6a6a6"},
      "gridWidth": {"condition": {"test": "datum.value == 1 || datum.value == 10", "value": 3.2}, "value": 1.4}}}}},
  {"width": 262, "height": 986, "data": {"name": "por"},
   "encoding": {"y": {"field": "depth", "type": "quantitative", "scale": {"domain": [2720, 2750], "reverse": true, "nice": false, "zero": false},
     "axis": {"values": [2722,2724,2726,2728,2730,2732,2734,2736,2738,2740,2742,2744,2746,2748],
      "gridColor": {"condition": {"test": "datum.value == 2730 || datum.value == 2740", "value": "#8c8c8c"}, "value": "#a6a6a6"},
      "gridWidth": {"condition": {"test": "datum.value == 2730 || datum.value == 2740", "value": 3.2}, "value": 1.6}}},
    "order": {"field": "depth", "type": "quantitative"}},
   "layer": [
    {"mark": {"type": "line", "color": "#00a2e8", "strokeWidth": 2.6, "clip": true},
     "encoding": {"x": {"field": "POR_1e-2", "type": "quantitative", "scale": {"domain": [0, 30], "nice": false, "zero": false},
      "axis": {"values": [6, 12, 18, 24], "gridColor": "#a6a6a6", "gridWidth": 1.6}}}},
    {"mark": {"type": "line", "color": "#800080", "strokeWidth": 2.6, "clip": true}, "encoding": {"x": {"field": "POR_2e-2", "type": "quantitative"}}},
    {"mark": {"type": "line", "color": "#800000", "strokeWidth": 2.6, "clip": true}, "encoding": {"x": {"field": "POR_2e-1", "type": "quantitative"}}},
    {"mark": {"type": "line", "color": "#007a00", "strokeWidth": 2.6, "clip": true}, "encoding": {"x": {"field": "POR_5e-1", "type": "quantitative"}}},
    {"mark": {"type": "line", "color": "#7f7000", "strokeWidth": 2.6, "clip": true}, "encoding": {"x": {"field": "POR_1e-1", "type": "quantitative"}}},
    {"mark": {"type": "line", "color": "#ff6a00", "strokeWidth": 2.6, "clip": true}, "encoding": {"x": {"field": "POR_5e-2", "type": "quantitative"}}},
    {"mark": {"type": "line", "color": "#000000", "strokeWidth": 2.6, "clip": true}, "encoding": {"x": {"field": "POR", "type": "quantitative"}}}
   ]},
  {"width": 263, "height": 986, "data": {"name": "sh"},
   "encoding": {"y": {"field": "depth", "type": "quantitative", "scale": {"domain": [2720, 2750], "reverse": true, "nice": false, "zero": false},
     "axis": {"values": [2722,2724,2726,2728,2730,2732,2734,2736,2738,2740,2742,2744,2746,2748],
      "gridColor": {"condition": {"test": "datum.value == 2730 || datum.value == 2740", "value": "#8c8c8c"}, "value": "#a6a6a6"},
      "gridWidth": {"condition": {"test": "datum.value == 2730 || datum.value == 2740", "value": 3.2}, "value": 1.6}}},
    "order": {"field": "depth", "type": "quantitative"}},
   "layer": [
    {"mark": {"type": "line", "color": "#00a2e8", "strokeWidth": 2.6, "clip": true},
     "encoding": {"x": {"field": "SH_1e-2", "type": "quantitative", "scale": {"domain": [0, 50], "nice": false, "zero": false},
      "axis": {"values": [10, 20, 30, 40], "gridColor": "#a6a6a6", "gridWidth": 1.6}}}},
    {"mark": {"type": "line", "color": "#800080", "strokeWidth": 2.6, "clip": true}, "encoding": {"x": {"field": "SH_2e-2", "type": "quantitative"}}},
    {"mark": {"type": "line", "color": "#800000", "strokeWidth": 2.6, "clip": true}, "encoding": {"x": {"field": "SH_2e-1", "type": "quantitative"}}},
    {"mark": {"type": "line", "color": "#007a00", "strokeWidth": 2.6, "clip": true}, "encoding": {"x": {"field": "SH_5e-1", "type": "quantitative"}}},
    {"mark": {"type": "line", "color": "#7f7000", "strokeWidth": 2.6, "clip": true}, "encoding": {"x": {"field": "SH_1e-1", "type": "quantitative"}}},
    {"mark": {"type": "line", "color": "#ff6a00", "strokeWidth": 2.6, "clip": true}, "encoding": {"x": {"field": "SH_5e-2", "type": "quantitative"}}},
    {"mark": {"type": "line", "color": "#ff0000", "strokeWidth": 2.6, "clip": true}, "encoding": {"x": {"field": "SH", "type": "quantitative"}}}
   ]}
]
}
